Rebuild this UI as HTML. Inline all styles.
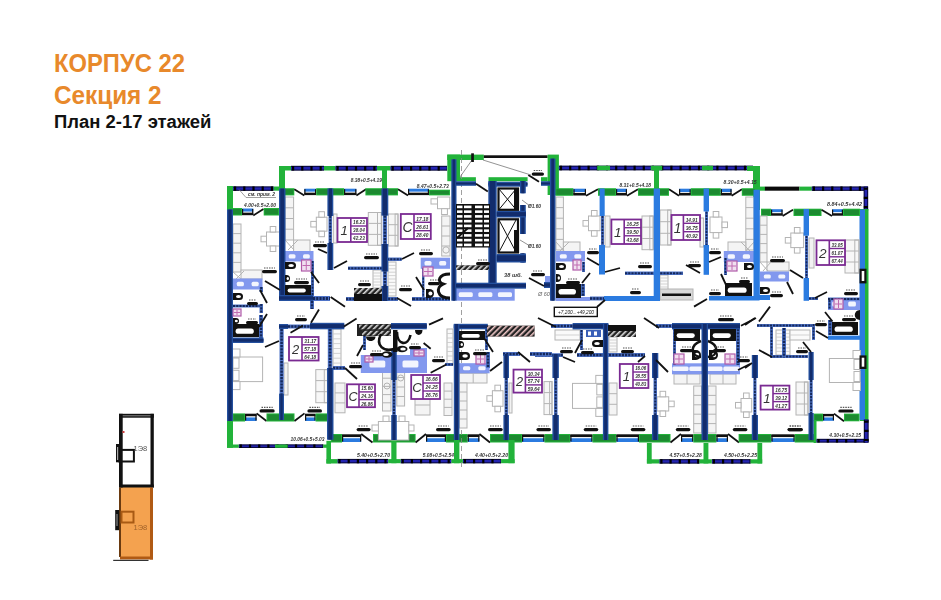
<!DOCTYPE html>
<html><head><meta charset="utf-8"><style>
html,body{margin:0;padding:0;background:#fff;width:941px;height:600px;overflow:hidden}
.t{position:absolute;font-family:"Liberation Sans",sans-serif;font-weight:bold;white-space:nowrap;line-height:1}
svg{position:absolute;left:0;top:0;will-change:transform}
</style></head><body>
<div class="t" style="left:54.2px;top:51.2px;font-size:25px;color:#e8892b;transform:scaleX(0.951);transform-origin:0 0">КОРПУС 22</div>
<div class="t" style="left:54.2px;top:82.6px;font-size:25px;color:#e8892b;transform:scaleX(0.972);transform-origin:0 0">Секция 2</div>
<div class="t" style="left:54.2px;top:114.2px;font-size:17.5px;color:#111;transform:scaleX(1.055);transform-origin:0 0">План 2-17 этажей</div>
<svg width="941" height="600" viewBox="0 0 941 600" shape-rendering="geometricPrecision">
<defs><pattern id="hg" width="4" height="4" patternUnits="userSpaceOnUse" patternTransform="rotate(45)"><rect width="1.6" height="4" fill="#ddd"/></pattern><pattern id="hr" width="4" height="4" patternUnits="userSpaceOnUse" patternTransform="rotate(45)"><rect width="1.6" height="4" fill="#f0c8c8"/></pattern></defs>
<rect x="120" y="487" width="31.5" height="71" fill="#f4a24f" />
<rect x="119" y="413.8" width="3.7" height="73.7" fill="#111" />
<rect x="150.5" y="413.8" width="3.3" height="73.7" fill="#111" />
<rect x="119" y="413.8" width="34.8" height="3.9" fill="#111" />
<rect x="122.7" y="415.3" width="27.8" height="1.0" fill="#888" />
<rect x="119" y="484.5" width="34.8" height="3.0" fill="#111" />
<rect x="119.4" y="449.9" width="14.5" height="11.6" fill="none" stroke="#111" stroke-width="2"/>
<rect x="116" y="444" width="3.2" height="18.3" fill="#111" />
<rect x="117" y="447" width="1.2" height="13" fill="#aaa" />
<rect x="122.5" y="431" width="2.0" height="2" fill="#d04040" />
<rect x="119" y="487.5" width="2" height="69.5" fill="#6a3a10" />
<rect x="150" y="487.5" width="3" height="72.0" fill="#b05a14" />
<rect x="120" y="556.5" width="33" height="3.0" fill="#b05a14" />
<rect x="113.2" y="559.8" width="35.3" height="1.2" fill="#333" />
<rect x="121.5" y="511.7" width="12" height="10.8" fill="none" stroke="#a85a14" stroke-width="2"/>
<rect x="115.2" y="510" width="4.0" height="20.2" fill="#111" />
<rect x="116.4" y="514" width="1.2" height="12" fill="#888" />
<rect x="227" y="186" width="6" height="30" fill="#22b33a" />
<rect x="233" y="186.3" width="40.7" height="4.6" fill="#0a0a40" />
<rect x="233" y="187.4" width="40.7" height="2.4" fill="#2424b0" />
<line x1="234" y1="188.6" x2="273.7" y2="188.6" stroke="#000" stroke-width="4.2" stroke-dasharray="2.2 7"/>
<rect x="273.7" y="186.5" width="11.3" height="4.2" fill="#22b33a" />
<rect x="279" y="166" width="6" height="26" fill="#22b33a" />
<rect x="279" y="166" width="12" height="4.5" fill="#22b33a" />
<rect x="291" y="165.8" width="33" height="4.9" fill="#0a0a40" />
<rect x="291" y="166.9" width="33" height="2.7" fill="#2424b0" />
<line x1="292" y1="168.25" x2="324" y2="168.25" stroke="#000" stroke-width="4.5" stroke-dasharray="2.2 7"/>
<rect x="324" y="166" width="11.5" height="4.5" fill="#22b33a" />
<rect x="335.5" y="165.8" width="41.5" height="4.9" fill="#0a0a40" />
<rect x="335.5" y="166.9" width="41.5" height="2.7" fill="#2424b0" />
<line x1="336.5" y1="168.25" x2="377" y2="168.25" stroke="#000" stroke-width="4.5" stroke-dasharray="2.2 7"/>
<rect x="377" y="166" width="13.6" height="4.5" fill="#22b33a" />
<rect x="382" y="170" width="5" height="22" fill="#22b33a" />
<rect x="390.6" y="165.8" width="56.4" height="4.9" fill="#0a0a40" />
<rect x="390.6" y="166.9" width="56.4" height="2.7" fill="#2424b0" />
<line x1="391.6" y1="168.25" x2="447" y2="168.25" stroke="#000" stroke-width="4.5" stroke-dasharray="2.2 7"/>
<rect x="447.3" y="154.6" width="36.5" height="5.4" fill="#22b33a" />
<rect x="447.3" y="154.6" width="12.7" height="26.6" fill="#22b33a" />
<rect x="460" y="177.2" width="15.9" height="4.0" fill="#22b33a" />
<rect x="483.8" y="155.3" width="63.8" height="2.7" fill="#111" />
<rect x="547.6" y="154.6" width="11.3" height="40.4" fill="#22b33a" />
<rect x="541" y="177.2" width="6.6" height="4.0" fill="#22b33a" />
<rect x="488.5" y="177.2" width="39.1" height="4.0" fill="#22b33a" />
<rect x="558.9" y="165.60000000000002" width="194.1" height="4.8" fill="#0a0a40" />
<rect x="558.9" y="166.70000000000002" width="194.1" height="2.6" fill="#2424b0" />
<line x1="559.9" y1="168.0" x2="753" y2="168.0" stroke="#000" stroke-width="4.4" stroke-dasharray="2.2 7"/>
<rect x="597.2" y="165.8" width="12.8" height="4.4" fill="#22b33a" />
<rect x="650.8" y="165.8" width="11.4" height="4.4" fill="#22b33a" />
<rect x="702" y="165.8" width="11" height="4.4" fill="#22b33a" />
<rect x="654" y="170" width="5" height="20" fill="#22b33a" />
<rect x="747" y="166" width="13" height="5" fill="#22b33a" />
<rect x="753" y="166" width="7" height="44" fill="#22b33a" />
<rect x="753" y="186.6" width="12" height="4.1" fill="#22b33a" />
<rect x="764.9" y="186.6" width="34.5" height="4.1" fill="#0a0a0a" />
<rect x="799.4" y="186.6" width="12.4" height="4.1" fill="#22b33a" />
<rect x="811.8" y="186.4" width="56.2" height="4.5" fill="#0a0a40" />
<rect x="811.8" y="187.5" width="56.2" height="2.3" fill="#2424b0" />
<line x1="812.8" y1="188.65" x2="868" y2="188.65" stroke="#000" stroke-width="4.1" stroke-dasharray="2.2 7"/>
<rect x="863.5999999999999" y="186.6" width="4.6" height="23.9" fill="#0a0a40" />
<rect x="864.6999999999999" y="186.6" width="2.4" height="23.9" fill="#2424b0" />
<line x1="865.9" y1="187.6" x2="865.9" y2="210.5" stroke="#000" stroke-width="4.2" stroke-dasharray="2.2 7"/>
<rect x="860" y="209" width="8.5" height="212" fill="#22b33a" />
<rect x="859.5" y="209.5" width="5.5" height="210.5" fill="#2b7be0" />
<rect x="231.9" y="208" width="10.1" height="7.5" fill="#22b33a" />
<rect x="232.9" y="209" width="8.1" height="5.5" fill="#1c8a30" />
<rect x="242" y="208.5" width="11.3" height="3.25" fill="#2b7be0" />
<rect x="242" y="211.75" width="11.3" height="0.9" fill="#ffffff" />
<rect x="242" y="212.65" width="11.3" height="2.55" fill="#111" />
<rect x="242" y="209" width="1.2" height="5.5" fill="#111" />
<rect x="252.10000000000002" y="209" width="1.2" height="5.5" fill="#111" />
<line x1="253.3" y1="215.5" x2="263.5" y2="209" stroke="#111" stroke-width="1.8"/>
<rect x="263.7" y="208" width="15.3" height="7.5" fill="#22b33a" />
<rect x="264.7" y="209" width="13.3" height="5.5" fill="#1c8a30" />
<rect x="283.7" y="188.2" width="10.6" height="7.2" fill="#22b33a" />
<rect x="284.7" y="189.2" width="8.6" height="5.2" fill="#1c8a30" />
<line x1="294.3" y1="189.2" x2="304.3" y2="195.4" stroke="#111" stroke-width="1.8"/>
<rect x="304.3" y="188.7" width="11.9" height="3.1" fill="#2b7be0" />
<rect x="304.3" y="191.8" width="11.9" height="0.86" fill="#ffffff" />
<rect x="304.3" y="192.664" width="11.9" height="2.44" fill="#111" />
<rect x="304.3" y="189.2" width="1.2" height="5.2" fill="#111" />
<rect x="315.0" y="189.2" width="1.2" height="5.2" fill="#111" />
<rect x="316.2" y="188.2" width="27.8" height="7.2" fill="#22b33a" />
<rect x="317.2" y="189.2" width="25.8" height="5.2" fill="#1c8a30" />
<rect x="344" y="188.7" width="12.4" height="3.1" fill="#2b7be0" />
<rect x="344" y="191.8" width="12.4" height="0.86" fill="#ffffff" />
<rect x="344" y="192.664" width="12.4" height="2.44" fill="#111" />
<rect x="344" y="189.2" width="1.2" height="5.2" fill="#111" />
<rect x="355.2" y="189.2" width="1.2" height="5.2" fill="#111" />
<line x1="356.4" y1="195.4" x2="366" y2="189.2" stroke="#111" stroke-width="1.8"/>
<rect x="365.4" y="188.2" width="32.6" height="7.2" fill="#22b33a" />
<rect x="366.4" y="189.2" width="30.6" height="5.2" fill="#1c8a30" />
<line x1="398" y1="189.2" x2="408" y2="195.4" stroke="#111" stroke-width="1.8"/>
<rect x="408" y="188.7" width="21" height="3.1" fill="#2b7be0" />
<rect x="408" y="191.8" width="21" height="0.86" fill="#ffffff" />
<rect x="408" y="192.664" width="21" height="2.44" fill="#111" />
<rect x="408" y="189.2" width="1.2" height="5.2" fill="#111" />
<rect x="427.8" y="189.2" width="1.2" height="5.2" fill="#111" />
<rect x="429" y="189.7" width="21" height="5.7" fill="#22b33a" />
<rect x="430" y="190.7" width="19" height="3.7" fill="#1c8a30" />
<rect x="555.3" y="188.2" width="18.1" height="7.6" fill="#22b33a" />
<rect x="556.3" y="189.2" width="16.1" height="5.6" fill="#1c8a30" />
<rect x="573.4" y="188.7" width="12.6" height="3.3" fill="#2b7be0" />
<rect x="573.4" y="192.0" width="12.6" height="0.91" fill="#ffffff" />
<rect x="573.4" y="192.912" width="12.6" height="2.59" fill="#111" />
<rect x="573.4" y="189.2" width="1.2" height="5.6" fill="#111" />
<rect x="584.8" y="189.2" width="1.2" height="5.6" fill="#111" />
<line x1="586" y1="195.8" x2="598" y2="189.2" stroke="#111" stroke-width="1.8"/>
<rect x="598" y="188.2" width="18" height="7.6" fill="#22b33a" />
<rect x="599" y="189.2" width="16" height="5.6" fill="#1c8a30" />
<rect x="616" y="188.7" width="11" height="3.3" fill="#2b7be0" />
<rect x="616" y="192.0" width="11" height="0.91" fill="#ffffff" />
<rect x="616" y="192.912" width="11" height="2.59" fill="#111" />
<rect x="616" y="189.2" width="1.2" height="5.6" fill="#111" />
<rect x="625.8" y="189.2" width="1.2" height="5.6" fill="#111" />
<line x1="627" y1="195.8" x2="638" y2="189.2" stroke="#111" stroke-width="1.8"/>
<rect x="638" y="188.2" width="31" height="7.6" fill="#22b33a" />
<rect x="639" y="189.2" width="29" height="5.6" fill="#1c8a30" />
<line x1="669" y1="189.2" x2="679" y2="195.8" stroke="#111" stroke-width="1.8"/>
<rect x="679" y="188.7" width="11.8" height="3.3" fill="#2b7be0" />
<rect x="679" y="192.0" width="11.8" height="0.91" fill="#ffffff" />
<rect x="679" y="192.912" width="11.8" height="2.59" fill="#111" />
<rect x="679" y="189.2" width="1.2" height="5.6" fill="#111" />
<rect x="689.5999999999999" y="189.2" width="1.2" height="5.6" fill="#111" />
<rect x="690.8" y="188.2" width="30.0" height="7.6" fill="#22b33a" />
<rect x="691.8" y="189.2" width="28.0" height="5.6" fill="#1c8a30" />
<rect x="720.8" y="188.7" width="10.8" height="3.3" fill="#2b7be0" />
<rect x="720.8" y="192.0" width="10.8" height="0.91" fill="#ffffff" />
<rect x="720.8" y="192.912" width="10.8" height="2.59" fill="#111" />
<rect x="720.8" y="189.2" width="1.2" height="5.6" fill="#111" />
<rect x="730.4" y="189.2" width="1.2" height="5.6" fill="#111" />
<line x1="731.6" y1="195.8" x2="742" y2="189.2" stroke="#111" stroke-width="1.8"/>
<rect x="741.8" y="188.2" width="14.2" height="7.6" fill="#22b33a" />
<rect x="742.8" y="189.2" width="12.2" height="5.6" fill="#1c8a30" />
<rect x="761" y="208.7" width="10" height="7.3" fill="#22b33a" />
<rect x="762" y="209.7" width="8" height="5.3" fill="#1c8a30" />
<rect x="771" y="209.2" width="11.6" height="3.15" fill="#2b7be0" />
<rect x="771" y="212.35" width="11.6" height="0.88" fill="#ffffff" />
<rect x="771" y="213.226" width="11.6" height="2.47" fill="#111" />
<rect x="771" y="209.7" width="1.2" height="5.3" fill="#111" />
<rect x="781.4" y="209.7" width="1.2" height="5.3" fill="#111" />
<line x1="782.6" y1="216" x2="793" y2="209.7" stroke="#111" stroke-width="1.8"/>
<rect x="793.5" y="208.7" width="28.0" height="7.3" fill="#22b33a" />
<rect x="794.5" y="209.7" width="26.0" height="5.3" fill="#1c8a30" />
<line x1="821.5" y1="209.7" x2="832" y2="216" stroke="#111" stroke-width="1.8"/>
<rect x="832" y="209.2" width="11" height="3.15" fill="#2b7be0" />
<rect x="832" y="212.35" width="11" height="0.88" fill="#ffffff" />
<rect x="832" y="213.226" width="11" height="2.47" fill="#111" />
<rect x="832" y="209.7" width="1.2" height="5.3" fill="#111" />
<rect x="841.8" y="209.7" width="1.2" height="5.3" fill="#111" />
<rect x="843" y="208.7" width="17" height="7.3" fill="#22b33a" />
<rect x="844" y="209.7" width="15" height="5.3" fill="#1c8a30" />
<rect x="232.6" y="413.4" width="12.4" height="8.1" fill="#22b33a" />
<rect x="233.6" y="414.4" width="10.4" height="6.1" fill="#1c8a30" />
<rect x="245" y="413.7" width="11.6" height="2.78" fill="#111" />
<rect x="245" y="416.478" width="11.6" height="0.97" fill="#ffffff" />
<rect x="245" y="417.45" width="11.6" height="3.55" fill="#2b7be0" />
<rect x="245" y="414.4" width="1.2" height="6.1" fill="#111" />
<rect x="255.40000000000003" y="414.4" width="1.2" height="6.1" fill="#111" />
<line x1="256.6" y1="413.4" x2="266.5" y2="421.0" stroke="#111" stroke-width="1.8"/>
<rect x="266.5" y="413.4" width="28.0" height="8.1" fill="#22b33a" />
<rect x="267.5" y="414.4" width="26.0" height="6.1" fill="#1c8a30" />
<line x1="294.5" y1="421.0" x2="304.5" y2="413.4" stroke="#111" stroke-width="1.8"/>
<rect x="305" y="413.7" width="10.6" height="2.78" fill="#111" />
<rect x="305" y="416.478" width="10.6" height="0.97" fill="#ffffff" />
<rect x="305" y="417.45" width="10.6" height="3.55" fill="#2b7be0" />
<rect x="305" y="414.4" width="1.2" height="6.1" fill="#111" />
<rect x="314.40000000000003" y="414.4" width="1.2" height="6.1" fill="#111" />
<rect x="315.6" y="413.4" width="13.4" height="8.1" fill="#22b33a" />
<rect x="316.6" y="414.4" width="11.4" height="6.1" fill="#1c8a30" />
<rect x="330.8" y="434" width="11.2" height="8.5" fill="#22b33a" />
<rect x="331.8" y="435" width="9.2" height="6.5" fill="#1c8a30" />
<rect x="342" y="434.3" width="19.2" height="2.93" fill="#111" />
<rect x="342" y="437.23" width="19.2" height="1.02" fill="#ffffff" />
<rect x="342" y="438.25" width="19.2" height="3.75" fill="#2b7be0" />
<rect x="342" y="435" width="1.2" height="6.5" fill="#111" />
<rect x="360.0" y="435" width="1.2" height="6.5" fill="#111" />
<line x1="361.2" y1="434" x2="372.5" y2="442.5" stroke="#111" stroke-width="1.8"/>
<rect x="373" y="434" width="42.6" height="8.5" fill="#22b33a" />
<rect x="374" y="435" width="40.6" height="6.5" fill="#1c8a30" />
<line x1="415.6" y1="442.5" x2="426" y2="434" stroke="#111" stroke-width="1.8"/>
<rect x="426" y="434.3" width="20" height="2.93" fill="#111" />
<rect x="426" y="437.23" width="20" height="1.02" fill="#ffffff" />
<rect x="426" y="438.25" width="20" height="3.75" fill="#2b7be0" />
<rect x="426" y="435" width="1.2" height="6.5" fill="#111" />
<rect x="444.8" y="435" width="1.2" height="6.5" fill="#111" />
<rect x="446" y="434" width="21.7" height="8.5" fill="#22b33a" />
<rect x="447" y="435" width="19.7" height="6.5" fill="#1c8a30" />
<rect x="467.7" y="434.3" width="11.7" height="2.93" fill="#111" />
<rect x="467.7" y="437.23" width="11.7" height="1.02" fill="#ffffff" />
<rect x="467.7" y="438.25" width="11.7" height="3.75" fill="#2b7be0" />
<rect x="467.7" y="435" width="1.2" height="6.5" fill="#111" />
<rect x="478.2" y="435" width="1.2" height="6.5" fill="#111" />
<line x1="479.4" y1="434" x2="490" y2="442.5" stroke="#111" stroke-width="1.8"/>
<rect x="490" y="434" width="32" height="8.5" fill="#22b33a" />
<rect x="491" y="435" width="30" height="6.5" fill="#1c8a30" />
<rect x="522" y="434.3" width="22.5" height="2.93" fill="#111" />
<rect x="522" y="437.23" width="22.5" height="1.02" fill="#ffffff" />
<rect x="522" y="438.25" width="22.5" height="3.75" fill="#2b7be0" />
<rect x="522" y="435" width="1.2" height="6.5" fill="#111" />
<rect x="543.3" y="435" width="1.2" height="6.5" fill="#111" />
<rect x="544.5" y="434" width="25.8" height="8.5" fill="#22b33a" />
<rect x="545.5" y="435" width="23.8" height="6.5" fill="#1c8a30" />
<rect x="570.3" y="434.3" width="22.2" height="2.93" fill="#111" />
<rect x="570.3" y="437.23" width="22.2" height="1.02" fill="#ffffff" />
<rect x="570.3" y="438.25" width="22.2" height="3.75" fill="#2b7be0" />
<rect x="570.3" y="435" width="1.2" height="6.5" fill="#111" />
<rect x="591.3" y="435" width="1.2" height="6.5" fill="#111" />
<rect x="592.5" y="434" width="23.9" height="8.5" fill="#22b33a" />
<rect x="593.5" y="435" width="21.9" height="6.5" fill="#1c8a30" />
<rect x="616.4" y="434.3" width="22.6" height="2.93" fill="#111" />
<rect x="616.4" y="437.23" width="22.6" height="1.02" fill="#ffffff" />
<rect x="616.4" y="438.25" width="22.6" height="3.75" fill="#2b7be0" />
<rect x="616.4" y="435" width="1.2" height="6.5" fill="#111" />
<rect x="637.8" y="435" width="1.2" height="6.5" fill="#111" />
<rect x="639" y="434" width="31.5" height="8.5" fill="#22b33a" />
<rect x="640" y="435" width="29.5" height="6.5" fill="#1c8a30" />
<line x1="670.5" y1="442.5" x2="681" y2="434" stroke="#111" stroke-width="1.8"/>
<rect x="681" y="434.3" width="12.3" height="2.93" fill="#111" />
<rect x="681" y="437.23" width="12.3" height="1.02" fill="#ffffff" />
<rect x="681" y="438.25" width="12.3" height="3.75" fill="#2b7be0" />
<rect x="681" y="435" width="1.2" height="6.5" fill="#111" />
<rect x="692.0999999999999" y="435" width="1.2" height="6.5" fill="#111" />
<rect x="693.3" y="434" width="23.1" height="8.5" fill="#22b33a" />
<rect x="694.3" y="435" width="21.1" height="6.5" fill="#1c8a30" />
<rect x="716.4" y="434.3" width="11.6" height="2.93" fill="#111" />
<rect x="716.4" y="437.23" width="11.6" height="1.02" fill="#ffffff" />
<rect x="716.4" y="438.25" width="11.6" height="3.75" fill="#2b7be0" />
<rect x="716.4" y="435" width="1.2" height="6.5" fill="#111" />
<rect x="726.8" y="435" width="1.2" height="6.5" fill="#111" />
<line x1="728" y1="434" x2="739" y2="442.5" stroke="#111" stroke-width="1.8"/>
<rect x="738.6" y="434" width="32.8" height="8.5" fill="#22b33a" />
<rect x="739.6" y="435" width="30.8" height="6.5" fill="#1c8a30" />
<rect x="771.4" y="434.3" width="23.3" height="2.93" fill="#111" />
<rect x="771.4" y="437.23" width="23.3" height="1.02" fill="#ffffff" />
<rect x="771.4" y="438.25" width="23.3" height="3.75" fill="#2b7be0" />
<rect x="771.4" y="435" width="1.2" height="6.5" fill="#111" />
<rect x="793.5" y="435" width="1.2" height="6.5" fill="#111" />
<rect x="794.7" y="434" width="20.5" height="8.5" fill="#22b33a" />
<rect x="795.7" y="435" width="18.5" height="6.5" fill="#1c8a30" />
<rect x="813.6" y="413.6" width="9.4" height="7.7" fill="#22b33a" />
<rect x="814.6" y="414.6" width="7.4" height="5.7" fill="#1c8a30" />
<rect x="823" y="413.90000000000003" width="11" height="2.63" fill="#111" />
<rect x="823" y="416.526" width="11" height="0.92" fill="#ffffff" />
<rect x="823" y="417.45000000000005" width="11" height="3.35" fill="#2b7be0" />
<rect x="823" y="414.6" width="1.2" height="5.7" fill="#111" />
<rect x="832.8" y="414.6" width="1.2" height="5.7" fill="#111" />
<line x1="834" y1="413.6" x2="844" y2="421.3" stroke="#111" stroke-width="1.8"/>
<rect x="844" y="413.6" width="15.5" height="7.7" fill="#22b33a" />
<rect x="845" y="414.6" width="13.5" height="5.7" fill="#1c8a30" />
<rect x="813.6" y="420" width="2.9" height="23" fill="#22b33a" />
<rect x="816.5" y="438.8" width="52.0" height="3.9" fill="#0a0a40" />
<rect x="816.5" y="439.9" width="52.0" height="1.7" fill="#2424b0" />
<line x1="817.5" y1="440.75" x2="868.5" y2="440.75" stroke="#000" stroke-width="3.5" stroke-dasharray="2.2 7"/>
<rect x="863.8" y="419.5" width="4.9" height="23.0" fill="#0a0a40" />
<rect x="864.9" y="419.5" width="2.7" height="23.0" fill="#2424b0" />
<line x1="866.25" y1="420.5" x2="866.25" y2="442.5" stroke="#000" stroke-width="4.5" stroke-dasharray="2.2 7"/>
<rect x="646.9" y="443" width="4.8" height="20.5" fill="#22b33a" />
<rect x="703.5" y="443" width="4.9" height="20.5" fill="#22b33a" />
<rect x="757.4" y="443" width="4.8" height="20.5" fill="#22b33a" />
<rect x="659.3" y="459.1" width="40.1" height="4.6" fill="#0a0a40" />
<rect x="659.3" y="460.2" width="40.1" height="2.4" fill="#2424b0" />
<line x1="660.3" y1="461.40000000000003" x2="699.4" y2="461.40000000000003" stroke="#000" stroke-width="4.2" stroke-dasharray="2.2 7"/>
<rect x="711.8" y="459.1" width="38.7" height="4.6" fill="#0a0a40" />
<rect x="711.8" y="460.2" width="38.7" height="2.4" fill="#2424b0" />
<line x1="712.8" y1="461.40000000000003" x2="750.5" y2="461.40000000000003" stroke="#000" stroke-width="4.2" stroke-dasharray="2.2 7"/>
<rect x="646.9" y="459.3" width="12.4" height="4.2" fill="#22b33a" />
<rect x="699.4" y="459.3" width="12.4" height="4.2" fill="#22b33a" />
<rect x="750.5" y="459.3" width="11.7" height="4.2" fill="#22b33a" />
<rect x="326.4" y="440.8" width="4.6" height="22.7" fill="#22b33a" />
<rect x="391.3" y="440" width="5.2" height="23.2" fill="#22b33a" />
<rect x="454" y="440" width="5.4" height="23.2" fill="#22b33a" />
<rect x="508.4" y="440" width="6.2" height="23.2" fill="#22b33a" />
<rect x="337.4" y="458.90000000000003" width="50.8" height="4.5" fill="#0a0a40" />
<rect x="337.4" y="460.0" width="50.8" height="2.3" fill="#2424b0" />
<line x1="338.4" y1="461.15000000000003" x2="388.2" y2="461.15000000000003" stroke="#000" stroke-width="4.1" stroke-dasharray="2.2 7"/>
<rect x="400.6" y="458.90000000000003" width="50.8" height="4.5" fill="#0a0a40" />
<rect x="400.6" y="460.0" width="50.8" height="2.3" fill="#2424b0" />
<line x1="401.6" y1="461.15000000000003" x2="451.4" y2="461.15000000000003" stroke="#000" stroke-width="4.1" stroke-dasharray="2.2 7"/>
<rect x="462.8" y="458.90000000000003" width="38.3" height="4.5" fill="#0a0a40" />
<rect x="462.8" y="460.0" width="38.3" height="2.3" fill="#2424b0" />
<line x1="463.8" y1="461.15000000000003" x2="501.1" y2="461.15000000000003" stroke="#000" stroke-width="4.1" stroke-dasharray="2.2 7"/>
<rect x="326.4" y="459.1" width="11.0" height="4.4" fill="#22b33a" />
<rect x="388.2" y="459.1" width="12.4" height="4.1" fill="#22b33a" />
<rect x="451.4" y="459.1" width="11.4" height="4.1" fill="#22b33a" />
<rect x="501.1" y="459.1" width="13.5" height="4.1" fill="#22b33a" />
<rect x="227" y="420" width="6" height="27.8" fill="#22b33a" />
<rect x="238.7" y="444.3" width="84.5" height="3.7" fill="#0a0a40" />
<rect x="238.7" y="445.4" width="84.5" height="1.5" fill="#2424b0" />
<line x1="239.7" y1="446.15" x2="323.2" y2="446.15" stroke="#000" stroke-width="3.3" stroke-dasharray="2.2 7"/>
<rect x="227" y="444.5" width="11.7" height="3.3" fill="#22b33a" />
<rect x="275" y="444.5" width="12.7" height="3.3" fill="#22b33a" />
<rect x="323.2" y="444.5" width="4.3" height="3.3" fill="#22b33a" />
<line x1="461.5" y1="150" x2="461.5" y2="470" stroke="#888" stroke-width="0.8" stroke-dasharray="5 3"/>
<rect x="233" y="224" width="8" height="48" fill="#f4f4f4" stroke="#b4b4b4" stroke-width="1"/>
<line x1="233" y1="233.6" x2="241" y2="233.6" stroke="#b4b4b4" stroke-width="1"/>
<line x1="233" y1="243.2" x2="241" y2="243.2" stroke="#b4b4b4" stroke-width="1"/>
<line x1="233" y1="252.8" x2="241" y2="252.8" stroke="#b4b4b4" stroke-width="1"/>
<line x1="233" y1="262.4" x2="241" y2="262.4" stroke="#b4b4b4" stroke-width="1"/>
<rect x="241" y="270" width="21" height="9" fill="#f4f4f4" stroke="#b4b4b4" stroke-width="1"/>
<path d="M233 272 L241 279 M236 279 L244 271" stroke="#b4b4b4" stroke-width="1"/>
<rect x="266.5" y="232" width="13.0" height="14" fill="#fff" stroke="#b4b4b4" stroke-width="1"/>
<rect x="270.2" y="226.5" width="5.6" height="5.5" fill="#fff" stroke="#b4b4b4" stroke-width="1"/>
<rect x="270.2" y="246" width="5.6" height="5.5" fill="#fff" stroke="#b4b4b4" stroke-width="1"/>
<rect x="261.0" y="236.2" width="5.5" height="5.6" fill="#fff" stroke="#b4b4b4" stroke-width="1"/>
<rect x="233" y="357" width="29.6" height="24.6" fill="#fff" stroke="#b4b4b4" stroke-width="1"/>
<rect x="233" y="358" width="6" height="10.3" fill="#fff" stroke="#b4b4b4" stroke-width="1"/>
<rect x="233" y="370.3" width="6" height="10.3" fill="#fff" stroke="#b4b4b4" stroke-width="1"/>
<rect x="232.5" y="349" width="7.5" height="8" fill="#fff" stroke="#b4b4b4" stroke-width="1"/>
<rect x="232.5" y="381.6" width="7.5" height="8.0" fill="#fff" stroke="#b4b4b4" stroke-width="1"/>
<rect x="284" y="363" width="4" height="32" fill="#f2f2f2" stroke="#b4b4b4" stroke-width="1"/>
<rect x="315.8" y="369.6" width="12.2" height="33.1" fill="#f7f7f7" stroke="#b4b4b4" stroke-width="1"/>
<line x1="315.8" y1="380.6" x2="328" y2="380.6" stroke="#b4b4b4" stroke-width="1"/>
<line x1="315.8" y1="391.7" x2="328" y2="391.7" stroke="#b4b4b4" stroke-width="1"/>
<rect x="324.3" y="369.6" width="3.7" height="33.099999999999966" fill="none" stroke="#b4b4b4" stroke-width="1"/>
<rect x="333" y="329" width="8" height="39" fill="#fafafa" stroke="#b4b4b4" stroke-width="1"/>
<line x1="333" y1="333.9" x2="341" y2="333.9" stroke="#c8c8c8" stroke-width="0.8"/>
<line x1="333" y1="338.8" x2="341" y2="338.8" stroke="#c8c8c8" stroke-width="0.8"/>
<line x1="333" y1="343.6" x2="341" y2="343.6" stroke="#c8c8c8" stroke-width="0.8"/>
<line x1="333" y1="348.5" x2="341" y2="348.5" stroke="#c8c8c8" stroke-width="0.8"/>
<line x1="333" y1="353.4" x2="341" y2="353.4" stroke="#c8c8c8" stroke-width="0.8"/>
<line x1="333" y1="358.2" x2="341" y2="358.2" stroke="#c8c8c8" stroke-width="0.8"/>
<line x1="333" y1="363.1" x2="341" y2="363.1" stroke="#c8c8c8" stroke-width="0.8"/>
<rect x="285" y="197" width="8.6" height="43" fill="#f4f4f4" stroke="#b4b4b4" stroke-width="1"/>
<line x1="285" y1="207.8" x2="293.6" y2="207.8" stroke="#b4b4b4" stroke-width="1"/>
<line x1="285" y1="218.5" x2="293.6" y2="218.5" stroke="#b4b4b4" stroke-width="1"/>
<line x1="285" y1="229.2" x2="293.6" y2="229.2" stroke="#b4b4b4" stroke-width="1"/>
<rect x="293.6" y="240" width="16.4" height="12" fill="#f4f4f4" stroke="#b4b4b4" stroke-width="1"/>
<path d="M285 240 L294 250 M288 250 L298 240" stroke="#b4b4b4" stroke-width="1"/>
<rect x="316.3" y="217.2" width="10.7" height="14.0" fill="#fff" stroke="#b4b4b4" stroke-width="1"/>
<rect x="318.84999999999997" y="211.7" width="5.6" height="5.5" fill="#fff" stroke="#b4b4b4" stroke-width="1"/>
<rect x="318.84999999999997" y="231.2" width="5.6" height="5.5" fill="#fff" stroke="#b4b4b4" stroke-width="1"/>
<rect x="310.8" y="221.39999999999998" width="5.5" height="5.6" fill="#fff" stroke="#b4b4b4" stroke-width="1"/>
<rect x="333.3" y="214" width="3.7" height="29" fill="#f2f2f2" stroke="#b4b4b4" stroke-width="1"/>
<rect x="368.3" y="212.5" width="13.1" height="32.8" fill="#f7f7f7" stroke="#b4b4b4" stroke-width="1"/>
<line x1="368.3" y1="223.4" x2="381.4" y2="223.4" stroke="#b4b4b4" stroke-width="1"/>
<line x1="368.3" y1="234.4" x2="381.4" y2="234.4" stroke="#b4b4b4" stroke-width="1"/>
<rect x="377.5" y="212.5" width="3.9" height="32.80000000000001" fill="none" stroke="#b4b4b4" stroke-width="1"/>
<rect x="373" y="270" width="8" height="18" fill="#fafafa" stroke="#b4b4b4" stroke-width="1"/>
<line x1="373" y1="273.0" x2="381" y2="273.0" stroke="#c8c8c8" stroke-width="0.8"/>
<line x1="373" y1="276.0" x2="381" y2="276.0" stroke="#c8c8c8" stroke-width="0.8"/>
<line x1="373" y1="279.0" x2="381" y2="279.0" stroke="#c8c8c8" stroke-width="0.8"/>
<line x1="373" y1="282.0" x2="381" y2="282.0" stroke="#c8c8c8" stroke-width="0.8"/>
<line x1="373" y1="285.0" x2="381" y2="285.0" stroke="#c8c8c8" stroke-width="0.8"/>
<rect x="388" y="262" width="8" height="34" fill="#fafafa" stroke="#b4b4b4" stroke-width="1"/>
<line x1="388" y1="265.4" x2="396" y2="265.4" stroke="#c8c8c8" stroke-width="0.8"/>
<line x1="388" y1="268.8" x2="396" y2="268.8" stroke="#c8c8c8" stroke-width="0.8"/>
<line x1="388" y1="272.2" x2="396" y2="272.2" stroke="#c8c8c8" stroke-width="0.8"/>
<line x1="388" y1="275.6" x2="396" y2="275.6" stroke="#c8c8c8" stroke-width="0.8"/>
<line x1="388" y1="279.0" x2="396" y2="279.0" stroke="#c8c8c8" stroke-width="0.8"/>
<line x1="388" y1="282.4" x2="396" y2="282.4" stroke="#c8c8c8" stroke-width="0.8"/>
<line x1="388" y1="285.8" x2="396" y2="285.8" stroke="#c8c8c8" stroke-width="0.8"/>
<line x1="388" y1="289.2" x2="396" y2="289.2" stroke="#c8c8c8" stroke-width="0.8"/>
<line x1="388" y1="292.6" x2="396" y2="292.6" stroke="#c8c8c8" stroke-width="0.8"/>
<rect x="388.3" y="214" width="9.7" height="32" fill="#f7f7f7" stroke="#b4b4b4" stroke-width="1"/>
<line x1="388.3" y1="224.7" x2="398" y2="224.7" stroke="#b4b4b4" stroke-width="1"/>
<line x1="388.3" y1="235.3" x2="398" y2="235.3" stroke="#b4b4b4" stroke-width="1"/>
<rect x="395.1" y="214" width="2.9" height="32" fill="none" stroke="#b4b4b4" stroke-width="1"/>
<rect x="441.7" y="216" width="8.3" height="40" fill="#f4f4f4" stroke="#b4b4b4" stroke-width="1"/>
<line x1="441.7" y1="226.0" x2="450" y2="226.0" stroke="#b4b4b4" stroke-width="1"/>
<line x1="441.7" y1="236.0" x2="450" y2="236.0" stroke="#b4b4b4" stroke-width="1"/>
<line x1="441.7" y1="246.0" x2="450" y2="246.0" stroke="#b4b4b4" stroke-width="1"/>
<circle cx="446" cy="250" r="3.2" fill="none" stroke="#b4b4b4" stroke-width="1"/>
<rect x="437.5" y="197" width="12.3" height="11.7" fill="#fff" stroke="#b4b4b4" stroke-width="1"/>
<rect x="431" y="198.8" width="6.5" height="5.2" fill="#fff" stroke="#b4b4b4" stroke-width="1"/>
<rect x="441.6" y="208.7" width="5.8" height="5.8" fill="#fff" stroke="#b4b4b4" stroke-width="1"/>
<rect x="556" y="197" width="7.4" height="53" fill="#f4f4f4" stroke="#b4b4b4" stroke-width="1"/>
<line x1="556" y1="207.6" x2="563.4" y2="207.6" stroke="#b4b4b4" stroke-width="1"/>
<line x1="556" y1="218.2" x2="563.4" y2="218.2" stroke="#b4b4b4" stroke-width="1"/>
<line x1="556" y1="228.8" x2="563.4" y2="228.8" stroke="#b4b4b4" stroke-width="1"/>
<line x1="556" y1="239.4" x2="563.4" y2="239.4" stroke="#b4b4b4" stroke-width="1"/>
<rect x="563.4" y="242" width="16.6" height="10" fill="#f4f4f4" stroke="#b4b4b4" stroke-width="1"/>
<path d="M556 242 L565 252 M559 252 L569 242" stroke="#b4b4b4" stroke-width="1"/>
<rect x="588.5" y="216" width="11.5" height="14.7" fill="#fff" stroke="#b4b4b4" stroke-width="1"/>
<rect x="591.45" y="210.5" width="5.6" height="5.5" fill="#fff" stroke="#b4b4b4" stroke-width="1"/>
<rect x="591.45" y="230.7" width="5.6" height="5.5" fill="#fff" stroke="#b4b4b4" stroke-width="1"/>
<rect x="583.0" y="220.54999999999998" width="5.5" height="5.6" fill="#fff" stroke="#b4b4b4" stroke-width="1"/>
<rect x="605" y="216" width="5" height="31" fill="#f2f2f2" stroke="#b4b4b4" stroke-width="1"/>
<rect x="642" y="216" width="11.2" height="33.7" fill="#f7f7f7" stroke="#b4b4b4" stroke-width="1"/>
<line x1="642" y1="227.2" x2="653.2" y2="227.2" stroke="#b4b4b4" stroke-width="1"/>
<line x1="642" y1="238.5" x2="653.2" y2="238.5" stroke="#b4b4b4" stroke-width="1"/>
<rect x="649.8" y="216" width="3.4" height="33.69999999999999" fill="none" stroke="#b4b4b4" stroke-width="1"/>
<rect x="660" y="210" width="11" height="35" fill="#f7f7f7" stroke="#b4b4b4" stroke-width="1"/>
<line x1="660" y1="221.7" x2="671" y2="221.7" stroke="#b4b4b4" stroke-width="1"/>
<line x1="660" y1="233.3" x2="671" y2="233.3" stroke="#b4b4b4" stroke-width="1"/>
<rect x="667.7" y="210" width="3.3" height="35" fill="none" stroke="#b4b4b4" stroke-width="1"/>
<rect x="700" y="218" width="3.6" height="29" fill="#f2f2f2" stroke="#b4b4b4" stroke-width="1"/>
<rect x="710" y="217" width="12" height="15.6" fill="#fff" stroke="#b4b4b4" stroke-width="1"/>
<rect x="713.2" y="211.5" width="5.6" height="5.5" fill="#fff" stroke="#b4b4b4" stroke-width="1"/>
<rect x="713.2" y="232.6" width="5.6" height="5.5" fill="#fff" stroke="#b4b4b4" stroke-width="1"/>
<rect x="722" y="222.0" width="5.5" height="5.6" fill="#fff" stroke="#b4b4b4" stroke-width="1"/>
<rect x="745.8" y="197" width="8.2" height="53" fill="#f4f4f4" stroke="#b4b4b4" stroke-width="1"/>
<line x1="745.8" y1="207.6" x2="754" y2="207.6" stroke="#b4b4b4" stroke-width="1"/>
<line x1="745.8" y1="218.2" x2="754" y2="218.2" stroke="#b4b4b4" stroke-width="1"/>
<line x1="745.8" y1="228.8" x2="754" y2="228.8" stroke="#b4b4b4" stroke-width="1"/>
<line x1="745.8" y1="239.4" x2="754" y2="239.4" stroke="#b4b4b4" stroke-width="1"/>
<rect x="728" y="242" width="17.8" height="10" fill="#f4f4f4" stroke="#b4b4b4" stroke-width="1"/>
<path d="M754 242 L745 252 M751 252 L741 242" stroke="#b4b4b4" stroke-width="1"/>
<rect x="660" y="275" width="8" height="15" fill="#fafafa" stroke="#b4b4b4" stroke-width="1"/>
<line x1="660" y1="278.0" x2="668" y2="278.0" stroke="#c8c8c8" stroke-width="0.8"/>
<line x1="660" y1="281.0" x2="668" y2="281.0" stroke="#c8c8c8" stroke-width="0.8"/>
<line x1="660" y1="284.0" x2="668" y2="284.0" stroke="#c8c8c8" stroke-width="0.8"/>
<line x1="660" y1="287.0" x2="668" y2="287.0" stroke="#c8c8c8" stroke-width="0.8"/>
<rect x="660" y="289" width="33" height="11" fill="#d8d8d8" stroke="#b4b4b4" stroke-width="1"/>
<rect x="760" y="216" width="7" height="46" fill="#f4f4f4" stroke="#b4b4b4" stroke-width="1"/>
<line x1="760" y1="225.2" x2="767" y2="225.2" stroke="#b4b4b4" stroke-width="1"/>
<line x1="760" y1="234.4" x2="767" y2="234.4" stroke="#b4b4b4" stroke-width="1"/>
<line x1="760" y1="243.6" x2="767" y2="243.6" stroke="#b4b4b4" stroke-width="1"/>
<line x1="760" y1="252.8" x2="767" y2="252.8" stroke="#b4b4b4" stroke-width="1"/>
<rect x="767" y="262" width="22" height="9" fill="#f4f4f4" stroke="#b4b4b4" stroke-width="1"/>
<path d="M760 262 L768 271 M763 271 L771 262" stroke="#b4b4b4" stroke-width="1"/>
<rect x="790.8" y="233" width="12.8" height="14.6" fill="#fff" stroke="#b4b4b4" stroke-width="1"/>
<rect x="794.4000000000001" y="227.5" width="5.6" height="5.5" fill="#fff" stroke="#b4b4b4" stroke-width="1"/>
<rect x="794.4000000000001" y="247.6" width="5.6" height="5.5" fill="#fff" stroke="#b4b4b4" stroke-width="1"/>
<rect x="785.3" y="237.5" width="5.5" height="5.6" fill="#fff" stroke="#b4b4b4" stroke-width="1"/>
<rect x="809" y="238" width="5" height="30" fill="#f2f2f2" stroke="#b4b4b4" stroke-width="1"/>
<rect x="845" y="240" width="14" height="33" fill="#f7f7f7" stroke="#b4b4b4" stroke-width="1"/>
<line x1="845" y1="251.0" x2="859" y2="251.0" stroke="#b4b4b4" stroke-width="1"/>
<line x1="845" y1="262.0" x2="859" y2="262.0" stroke="#b4b4b4" stroke-width="1"/>
<rect x="854.8" y="240" width="4.2" height="33" fill="none" stroke="#b4b4b4" stroke-width="1"/>
<rect x="776" y="330" width="14" height="25" fill="#fafafa" stroke="#b4b4b4" stroke-width="1"/>
<line x1="776" y1="333.6" x2="790" y2="333.6" stroke="#c8c8c8" stroke-width="0.8"/>
<line x1="776" y1="337.1" x2="790" y2="337.1" stroke="#c8c8c8" stroke-width="0.8"/>
<line x1="776" y1="340.7" x2="790" y2="340.7" stroke="#c8c8c8" stroke-width="0.8"/>
<line x1="776" y1="344.3" x2="790" y2="344.3" stroke="#c8c8c8" stroke-width="0.8"/>
<line x1="776" y1="347.9" x2="790" y2="347.9" stroke="#c8c8c8" stroke-width="0.8"/>
<line x1="776" y1="351.4" x2="790" y2="351.4" stroke="#c8c8c8" stroke-width="0.8"/>
<rect x="790" y="330" width="20" height="10" fill="#fafafa" stroke="#b4b4b4" stroke-width="1"/>
<line x1="790" y1="335.0" x2="810" y2="335.0" stroke="#c8c8c8" stroke-width="0.8"/>
<rect x="829.4" y="358.5" width="30.6" height="24.0" fill="#fff" stroke="#b4b4b4" stroke-width="1"/>
<rect x="854" y="359.5" width="6" height="10.0" fill="#fff" stroke="#b4b4b4" stroke-width="1"/>
<rect x="854" y="371.5" width="6" height="10.0" fill="#fff" stroke="#b4b4b4" stroke-width="1"/>
<rect x="853" y="350.5" width="7.5" height="8.0" fill="#fff" stroke="#b4b4b4" stroke-width="1"/>
<rect x="853" y="382.5" width="7.5" height="8.0" fill="#fff" stroke="#b4b4b4" stroke-width="1"/>
<rect x="796" y="382" width="12" height="33" fill="#f7f7f7" stroke="#b4b4b4" stroke-width="1"/>
<line x1="796" y1="393.0" x2="808" y2="393.0" stroke="#b4b4b4" stroke-width="1"/>
<line x1="796" y1="404.0" x2="808" y2="404.0" stroke="#b4b4b4" stroke-width="1"/>
<rect x="804.4" y="382" width="3.6" height="33" fill="none" stroke="#b4b4b4" stroke-width="1"/>
<rect x="741" y="398.5" width="10.7" height="13.5" fill="#fff" stroke="#b4b4b4" stroke-width="1"/>
<rect x="743.5500000000001" y="393.0" width="5.6" height="5.5" fill="#fff" stroke="#b4b4b4" stroke-width="1"/>
<rect x="743.5500000000001" y="412" width="5.6" height="5.5" fill="#fff" stroke="#b4b4b4" stroke-width="1"/>
<rect x="735.5" y="402.45" width="5.5" height="5.6" fill="#fff" stroke="#b4b4b4" stroke-width="1"/>
<rect x="674" y="374" width="26" height="10" fill="#f4f4f4" stroke="#b4b4b4" stroke-width="1"/>
<line x1="687.0" y1="374" x2="687.0" y2="384" stroke="#b4b4b4" stroke-width="1"/>
<rect x="710" y="374" width="26" height="10" fill="#f4f4f4" stroke="#b4b4b4" stroke-width="1"/>
<line x1="723.0" y1="374" x2="723.0" y2="384" stroke="#b4b4b4" stroke-width="1"/>
<rect x="693.7" y="386" width="7.8" height="47" fill="#f4f4f4" stroke="#b4b4b4" stroke-width="1"/>
<line x1="693.7" y1="395.4" x2="701.5" y2="395.4" stroke="#b4b4b4" stroke-width="1"/>
<line x1="693.7" y1="404.8" x2="701.5" y2="404.8" stroke="#b4b4b4" stroke-width="1"/>
<line x1="693.7" y1="414.2" x2="701.5" y2="414.2" stroke="#b4b4b4" stroke-width="1"/>
<line x1="693.7" y1="423.6" x2="701.5" y2="423.6" stroke="#b4b4b4" stroke-width="1"/>
<rect x="708" y="386" width="8" height="47" fill="#f4f4f4" stroke="#b4b4b4" stroke-width="1"/>
<line x1="708" y1="395.4" x2="716" y2="395.4" stroke="#b4b4b4" stroke-width="1"/>
<line x1="708" y1="404.8" x2="716" y2="404.8" stroke="#b4b4b4" stroke-width="1"/>
<line x1="708" y1="414.2" x2="716" y2="414.2" stroke="#b4b4b4" stroke-width="1"/>
<line x1="708" y1="423.6" x2="716" y2="423.6" stroke="#b4b4b4" stroke-width="1"/>
<rect x="657" y="396.8" width="11.7" height="14.2" fill="#fff" stroke="#b4b4b4" stroke-width="1"/>
<rect x="660.0500000000001" y="391.3" width="5.6" height="5.5" fill="#fff" stroke="#b4b4b4" stroke-width="1"/>
<rect x="660.0500000000001" y="411" width="5.6" height="5.5" fill="#fff" stroke="#b4b4b4" stroke-width="1"/>
<rect x="668.7" y="401.09999999999997" width="5.5" height="5.6" fill="#fff" stroke="#b4b4b4" stroke-width="1"/>
<rect x="555" y="330" width="25" height="10" fill="#fafafa" stroke="#b4b4b4" stroke-width="1"/>
<line x1="555" y1="335.0" x2="580" y2="335.0" stroke="#c8c8c8" stroke-width="0.8"/>
<rect x="609" y="337" width="8" height="15" fill="#fafafa" stroke="#b4b4b4" stroke-width="1"/>
<line x1="609" y1="340.0" x2="617" y2="340.0" stroke="#c8c8c8" stroke-width="0.8"/>
<line x1="609" y1="343.0" x2="617" y2="343.0" stroke="#c8c8c8" stroke-width="0.8"/>
<line x1="609" y1="346.0" x2="617" y2="346.0" stroke="#c8c8c8" stroke-width="0.8"/>
<line x1="609" y1="349.0" x2="617" y2="349.0" stroke="#c8c8c8" stroke-width="0.8"/>
<rect x="572.5" y="383.4" width="30.3" height="25.0" fill="#fff" stroke="#b4b4b4" stroke-width="1"/>
<rect x="596.8" y="384.4" width="6.0" height="10.5" fill="#fff" stroke="#b4b4b4" stroke-width="1"/>
<rect x="596.8" y="396.9" width="6.0" height="10.5" fill="#fff" stroke="#b4b4b4" stroke-width="1"/>
<rect x="595.8" y="375.4" width="7.5" height="8.0" fill="#fff" stroke="#b4b4b4" stroke-width="1"/>
<rect x="595.8" y="408.4" width="7.5" height="8.0" fill="#fff" stroke="#b4b4b4" stroke-width="1"/>
<rect x="609" y="383" width="8" height="32" fill="#f4f4f4" stroke="#b4b4b4" stroke-width="1"/>
<line x1="609" y1="393.7" x2="617" y2="393.7" stroke="#b4b4b4" stroke-width="1"/>
<line x1="609" y1="404.3" x2="617" y2="404.3" stroke="#b4b4b4" stroke-width="1"/>
<rect x="544" y="381.6" width="8" height="33.0" fill="#f7f7f7" stroke="#b4b4b4" stroke-width="1"/>
<line x1="544" y1="392.6" x2="552" y2="392.6" stroke="#b4b4b4" stroke-width="1"/>
<line x1="544" y1="403.6" x2="552" y2="403.6" stroke="#b4b4b4" stroke-width="1"/>
<rect x="549.6" y="381.6" width="2.4" height="33.0" fill="none" stroke="#b4b4b4" stroke-width="1"/>
<rect x="492.4" y="390.7" width="10.6" height="15.6" fill="#fff" stroke="#b4b4b4" stroke-width="1"/>
<rect x="494.9" y="385.2" width="5.6" height="5.5" fill="#fff" stroke="#b4b4b4" stroke-width="1"/>
<rect x="494.9" y="406.3" width="5.6" height="5.5" fill="#fff" stroke="#b4b4b4" stroke-width="1"/>
<rect x="486.9" y="395.7" width="5.5" height="5.6" fill="#fff" stroke="#b4b4b4" stroke-width="1"/>
<rect x="509" y="383" width="3" height="30" fill="#f2f2f2" stroke="#b4b4b4" stroke-width="1"/>
<rect x="447" y="329" width="6" height="36" fill="#fafafa" stroke="#b4b4b4" stroke-width="1"/>
<line x1="447" y1="333.5" x2="453" y2="333.5" stroke="#c8c8c8" stroke-width="0.8"/>
<line x1="447" y1="338.0" x2="453" y2="338.0" stroke="#c8c8c8" stroke-width="0.8"/>
<line x1="447" y1="342.5" x2="453" y2="342.5" stroke="#c8c8c8" stroke-width="0.8"/>
<line x1="447" y1="347.0" x2="453" y2="347.0" stroke="#c8c8c8" stroke-width="0.8"/>
<line x1="447" y1="351.5" x2="453" y2="351.5" stroke="#c8c8c8" stroke-width="0.8"/>
<line x1="447" y1="356.0" x2="453" y2="356.0" stroke="#c8c8c8" stroke-width="0.8"/>
<line x1="447" y1="360.5" x2="453" y2="360.5" stroke="#c8c8c8" stroke-width="0.8"/>
<rect x="444" y="383" width="8" height="32.5" fill="#f4f4f4" stroke="#b4b4b4" stroke-width="1"/>
<line x1="444" y1="391.1" x2="452" y2="391.1" stroke="#b4b4b4" stroke-width="1"/>
<line x1="444" y1="399.2" x2="452" y2="399.2" stroke="#b4b4b4" stroke-width="1"/>
<line x1="444" y1="407.4" x2="452" y2="407.4" stroke="#b4b4b4" stroke-width="1"/>
<rect x="459.4" y="373.3" width="27.6" height="9.7" fill="#f4f4f4" stroke="#b4b4b4" stroke-width="1"/>
<line x1="473.2" y1="373.3" x2="473.2" y2="383" stroke="#b4b4b4" stroke-width="1"/>
<rect x="459.4" y="383" width="7.6" height="45" fill="#f4f4f4" stroke="#b4b4b4" stroke-width="1"/>
<line x1="459.4" y1="392.0" x2="467" y2="392.0" stroke="#b4b4b4" stroke-width="1"/>
<line x1="459.4" y1="401.0" x2="467" y2="401.0" stroke="#b4b4b4" stroke-width="1"/>
<line x1="459.4" y1="410.0" x2="467" y2="410.0" stroke="#b4b4b4" stroke-width="1"/>
<line x1="459.4" y1="419.0" x2="467" y2="419.0" stroke="#b4b4b4" stroke-width="1"/>
<rect x="335" y="383" width="10" height="29.8" fill="#f4f4f4" stroke="#b4b4b4" stroke-width="1"/>
<line x1="335" y1="392.9" x2="345" y2="392.9" stroke="#b4b4b4" stroke-width="1"/>
<line x1="335" y1="402.9" x2="345" y2="402.9" stroke="#b4b4b4" stroke-width="1"/>
<rect x="382.5" y="370" width="8.5" height="41" fill="#f4f4f4" stroke="#b4b4b4" stroke-width="1"/>
<line x1="382.5" y1="378.2" x2="391" y2="378.2" stroke="#b4b4b4" stroke-width="1"/>
<line x1="382.5" y1="386.4" x2="391" y2="386.4" stroke="#b4b4b4" stroke-width="1"/>
<line x1="382.5" y1="394.6" x2="391" y2="394.6" stroke="#b4b4b4" stroke-width="1"/>
<line x1="382.5" y1="402.8" x2="391" y2="402.8" stroke="#b4b4b4" stroke-width="1"/>
<circle cx="387" cy="386" r="3" fill="none" stroke="#b4b4b4" stroke-width="1"/><circle cx="397" cy="363" r="3" fill="none" stroke="#b4b4b4" stroke-width="1"/>
<rect x="378.4" y="421.5" width="30.4" height="18.5" fill="#fff" stroke="#b4b4b4" stroke-width="1"/>
<rect x="383" y="416" width="6" height="5.5" fill="#fff" stroke="#b4b4b4" stroke-width="1"/>
<rect x="399" y="416" width="6" height="5.5" fill="#fff" stroke="#b4b4b4" stroke-width="1"/>
<rect x="372" y="425" width="6.4" height="6" fill="#fff" stroke="#b4b4b4" stroke-width="1"/>
<rect x="408.8" y="425" width="5.2" height="6" fill="#fff" stroke="#b4b4b4" stroke-width="1"/>
<rect x="396.8" y="368" width="7.8" height="38" fill="#f4f4f4" stroke="#b4b4b4" stroke-width="1"/>
<line x1="396.8" y1="377.5" x2="404.6" y2="377.5" stroke="#b4b4b4" stroke-width="1"/>
<line x1="396.8" y1="387.0" x2="404.6" y2="387.0" stroke="#b4b4b4" stroke-width="1"/>
<line x1="396.8" y1="396.5" x2="404.6" y2="396.5" stroke="#b4b4b4" stroke-width="1"/>
<circle cx="400.7" cy="378" r="3" fill="none" stroke="#b4b4b4" stroke-width="1"/>
<rect x="415" y="385" width="15" height="30" fill="#f4f4f4" stroke="#b4b4b4" stroke-width="1"/>
<line x1="415" y1="395.0" x2="430" y2="395.0" stroke="#b4b4b4" stroke-width="1"/>
<line x1="415" y1="405.0" x2="430" y2="405.0" stroke="#b4b4b4" stroke-width="1"/>
<rect x="233" y="278.5" width="29.5" height="11.0" fill="#8298ee" />
<rect x="236.8" y="281.8" width="7.1" height="4.4" rx="1.5" fill="#fff" opacity="0.9"/>
<rect x="251.6" y="281.8" width="7.1" height="4.4" rx="1.5" fill="#fff" opacity="0.9"/>
<rect x="285" y="251" width="28.5" height="10.5" fill="#8298ee" />
<rect x="288.7" y="254.2" width="6.8" height="4.2" rx="1.5" fill="#fff" opacity="0.9"/>
<rect x="303.0" y="254.2" width="6.8" height="4.2" rx="1.5" fill="#fff" opacity="0.9"/>
<rect x="420.7" y="257.7" width="29.3" height="11.1" fill="#8298ee" />
<rect x="424.5" y="261.0" width="7.0" height="4.4" rx="1.5" fill="#fff" opacity="0.9"/>
<rect x="439.2" y="261.0" width="7.0" height="4.4" rx="1.5" fill="#fff" opacity="0.9"/>
<rect x="456" y="288.7" width="58.7" height="12.0" fill="#8298ee" />
<rect x="458.7" y="292.3" width="14.1" height="4.8" rx="1.5" fill="#fff" opacity="0.9"/>
<rect x="478.3" y="292.3" width="14.1" height="4.8" rx="1.5" fill="#fff" opacity="0.9"/>
<rect x="497.9" y="292.3" width="14.1" height="4.8" rx="1.5" fill="#fff" opacity="0.9"/>
<rect x="556" y="251" width="29" height="10.5" fill="#8298ee" />
<rect x="559.8" y="254.2" width="7.0" height="4.2" rx="1.5" fill="#fff" opacity="0.9"/>
<rect x="574.3" y="254.2" width="7.0" height="4.2" rx="1.5" fill="#fff" opacity="0.9"/>
<rect x="723.8" y="251" width="30.2" height="11" fill="#8298ee" />
<rect x="727.7" y="254.3" width="7.2" height="4.4" rx="1.5" fill="#fff" opacity="0.9"/>
<rect x="742.8" y="254.3" width="7.2" height="4.4" rx="1.5" fill="#fff" opacity="0.9"/>
<rect x="760" y="271.5" width="29" height="10.0" fill="#8298ee" />
<rect x="763.8" y="274.5" width="7.0" height="4.0" rx="1.5" fill="#fff" opacity="0.9"/>
<rect x="778.3" y="274.5" width="7.0" height="4.0" rx="1.5" fill="#fff" opacity="0.9"/>
<rect x="828" y="298" width="32" height="12" fill="#8298ee" />
<rect x="832.2" y="301.6" width="7.7" height="4.8" rx="1.5" fill="#fff" opacity="0.9"/>
<rect x="848.2" y="301.6" width="7.7" height="4.8" rx="1.5" fill="#fff" opacity="0.9"/>
<rect x="672" y="363.3" width="68" height="11.0" fill="#8298ee" />
<rect x="672.3" y="366.6" width="16.3" height="4.4" rx="1.5" fill="#fff" opacity="0.9"/>
<rect x="689.3" y="366.6" width="16.3" height="4.4" rx="1.5" fill="#fff" opacity="0.9"/>
<rect x="706.3" y="366.6" width="16.3" height="4.4" rx="1.5" fill="#fff" opacity="0.9"/>
<rect x="723.3" y="366.6" width="16.3" height="4.4" rx="1.5" fill="#fff" opacity="0.9"/>
<rect x="360.8" y="355" width="66.2" height="18" fill="#8298ee" />
<rect x="369.4" y="360.4" width="15.9" height="7.2" rx="1.5" fill="#fff" opacity="0.9"/>
<rect x="402.5" y="360.4" width="15.9" height="7.2" rx="1.5" fill="#fff" opacity="0.9"/>
<rect x="410" y="348" width="17" height="9" fill="#8298ee" />
<rect x="416.5" y="350.7" width="4.1" height="3.6" rx="1.5" fill="#fff" opacity="0.9"/>
<rect x="459" y="363.2" width="30.6" height="10.1" fill="#8298ee" />
<rect x="463.0" y="366.2" width="7.3" height="4.0" rx="1.5" fill="#fff" opacity="0.9"/>
<rect x="478.3" y="366.2" width="7.3" height="4.0" rx="1.5" fill="#fff" opacity="0.9"/>
<rect x="545" y="276" width="5" height="6" fill="#8298ee" />
<rect x="259.5" y="287" width="3.5" height="5" fill="#4f74c8" />
<line x1="261.25" y1="287" x2="261.25" y2="292" stroke="#15285a" stroke-width="2.1" stroke-dasharray="2.2 1"/>
<rect x="233" y="304.5" width="30" height="3.0" fill="#4f74c8" />
<line x1="233" y1="306.0" x2="263" y2="306.0" stroke="#15285a" stroke-width="1.7999999999999998" stroke-dasharray="2.2 1"/>
<rect x="259.5" y="304" width="3.5" height="9" fill="#4f74c8" />
<line x1="261.25" y1="304" x2="261.25" y2="313" stroke="#15285a" stroke-width="2.1" stroke-dasharray="2.2 1"/>
<rect x="259" y="315" width="4" height="28" fill="#4f74c8" />
<line x1="261.0" y1="315" x2="261.0" y2="343" stroke="#15285a" stroke-width="2.4" stroke-dasharray="2.2 1"/>
<rect x="279.5" y="329" width="4.2" height="64.5" fill="#4f74c8" />
<line x1="281.6" y1="329" x2="281.6" y2="393.5" stroke="#15285a" stroke-width="2.519999999999993" stroke-dasharray="2.2 1"/>
<rect x="327.8" y="329" width="4.5" height="39" fill="#4f74c8" />
<line x1="330.05" y1="329" x2="330.05" y2="368" stroke="#15285a" stroke-width="2.6999999999999997" stroke-dasharray="2.2 1"/>
<rect x="333" y="366" width="12" height="4" fill="#4f74c8" />
<line x1="333" y1="368.0" x2="345" y2="368.0" stroke="#15285a" stroke-width="2.4" stroke-dasharray="2.2 1"/>
<rect x="311" y="261" width="3" height="35" fill="#4f74c8" />
<line x1="312.5" y1="261" x2="312.5" y2="296" stroke="#15285a" stroke-width="1.7999999999999998" stroke-dasharray="2.2 1"/>
<rect x="328.5" y="216" width="3.5" height="27" fill="#4f74c8" />
<line x1="330.25" y1="216" x2="330.25" y2="243" stroke="#15285a" stroke-width="2.1" stroke-dasharray="2.2 1"/>
<rect x="348" y="266.5" width="34" height="3.5" fill="#4f74c8" />
<line x1="348" y1="268.25" x2="382" y2="268.25" stroke="#15285a" stroke-width="2.1" stroke-dasharray="2.2 1"/>
<rect x="382.8" y="215.6" width="4.2" height="28.4" fill="#4f74c8" />
<line x1="384.9" y1="215.6" x2="384.9" y2="244" stroke="#15285a" stroke-width="2.519999999999993" stroke-dasharray="2.2 1"/>
<rect x="382.8" y="271.5" width="4.2" height="14.5" fill="#4f74c8" />
<line x1="384.9" y1="271.5" x2="384.9" y2="286" stroke="#15285a" stroke-width="2.519999999999993" stroke-dasharray="2.2 1"/>
<rect x="313" y="296" width="17" height="5" fill="#4f74c8" />
<line x1="313" y1="298.5" x2="330" y2="298.5" stroke="#15285a" stroke-width="3.0" stroke-dasharray="2.2 1"/>
<rect x="310" y="301" width="4" height="8" fill="#4f74c8" />
<line x1="312.0" y1="301" x2="312.0" y2="309" stroke="#15285a" stroke-width="2.4" stroke-dasharray="2.2 1"/>
<rect x="288" y="324.5" width="22" height="4.0" fill="#4f74c8" />
<line x1="288" y1="326.5" x2="310" y2="326.5" stroke="#15285a" stroke-width="2.4" stroke-dasharray="2.2 1"/>
<rect x="346" y="297" width="9" height="4" fill="#4f74c8" />
<line x1="346" y1="299.0" x2="355" y2="299.0" stroke="#15285a" stroke-width="2.4" stroke-dasharray="2.2 1"/>
<rect x="388" y="297" width="10" height="4" fill="#4f74c8" />
<line x1="388" y1="299.0" x2="398" y2="299.0" stroke="#15285a" stroke-width="2.4" stroke-dasharray="2.2 1"/>
<rect x="412" y="297" width="8" height="4" fill="#4f74c8" />
<line x1="412" y1="299.0" x2="420" y2="299.0" stroke="#15285a" stroke-width="2.4" stroke-dasharray="2.2 1"/>
<rect x="387" y="257.5" width="14.7" height="3.5" fill="#4f74c8" />
<line x1="387" y1="259.25" x2="401.7" y2="259.25" stroke="#15285a" stroke-width="2.1" stroke-dasharray="2.2 1"/>
<rect x="422" y="268" width="2.5" height="30" fill="#4f74c8" />
<line x1="423.25" y1="268" x2="423.25" y2="298" stroke="#15285a" stroke-width="1.5" stroke-dasharray="2.2 1"/>
<rect x="413" y="297" width="37" height="4" fill="#4f74c8" />
<line x1="413" y1="299.0" x2="450" y2="299.0" stroke="#15285a" stroke-width="2.4" stroke-dasharray="2.2 1"/>
<rect x="601" y="216" width="3" height="29" fill="#4f74c8" />
<line x1="602.5" y1="216" x2="602.5" y2="245" stroke="#15285a" stroke-width="1.7999999999999998" stroke-dasharray="2.2 1"/>
<rect x="582" y="262" width="3" height="10" fill="#4f74c8" />
<line x1="583.5" y1="262" x2="583.5" y2="272" stroke="#15285a" stroke-width="1.7999999999999998" stroke-dasharray="2.2 1"/>
<rect x="581" y="284" width="4" height="12" fill="#4f74c8" />
<line x1="583.0" y1="284" x2="583.0" y2="296" stroke="#15285a" stroke-width="2.4" stroke-dasharray="2.2 1"/>
<rect x="590" y="296.5" width="15" height="4.0" fill="#4f74c8" />
<line x1="590" y1="298.5" x2="605" y2="298.5" stroke="#15285a" stroke-width="2.4" stroke-dasharray="2.2 1"/>
<rect x="705" y="211.5" width="3" height="33.5" fill="#4f74c8" />
<line x1="706.5" y1="211.5" x2="706.5" y2="245" stroke="#15285a" stroke-width="1.7999999999999998" stroke-dasharray="2.2 1"/>
<rect x="724" y="258" width="3" height="17" fill="#4f74c8" />
<line x1="725.5" y1="258" x2="725.5" y2="275" stroke="#15285a" stroke-width="1.7999999999999998" stroke-dasharray="2.2 1"/>
<rect x="625" y="271.5" width="58" height="3.5" fill="#4f74c8" />
<line x1="625" y1="273.25" x2="683" y2="273.25" stroke="#15285a" stroke-width="2.1" stroke-dasharray="2.2 1"/>
<rect x="805" y="235.7" width="3" height="42.3" fill="#4f74c8" />
<line x1="806.5" y1="235.7" x2="806.5" y2="278" stroke="#15285a" stroke-width="1.7999999999999998" stroke-dasharray="2.2 1"/>
<rect x="809" y="297" width="9" height="3" fill="#4f74c8" />
<line x1="809" y1="298.5" x2="818" y2="298.5" stroke="#15285a" stroke-width="1.7999999999999998" stroke-dasharray="2.2 1"/>
<rect x="828" y="320" width="4" height="15" fill="#4f74c8" />
<line x1="830.0" y1="320" x2="830.0" y2="335" stroke="#15285a" stroke-width="2.4" stroke-dasharray="2.2 1"/>
<rect x="828" y="297.5" width="32" height="3.0" fill="#4f74c8" />
<line x1="828" y1="299.0" x2="860" y2="299.0" stroke="#15285a" stroke-width="1.7999999999999998" stroke-dasharray="2.2 1"/>
<rect x="828" y="300" width="3" height="9" fill="#4f74c8" />
<line x1="829.5" y1="300" x2="829.5" y2="309" stroke="#15285a" stroke-width="1.7999999999999998" stroke-dasharray="2.2 1"/>
<rect x="757" y="324" width="55" height="3" fill="#4f74c8" />
<line x1="757" y1="325.5" x2="812" y2="325.5" stroke="#15285a" stroke-width="1.7999999999999998" stroke-dasharray="2.2 1"/>
<rect x="812" y="324" width="3" height="16" fill="#4f74c8" />
<line x1="813.5" y1="324" x2="813.5" y2="340" stroke="#15285a" stroke-width="1.7999999999999998" stroke-dasharray="2.2 1"/>
<rect x="770" y="355" width="38" height="3" fill="#4f74c8" />
<line x1="770" y1="356.5" x2="808" y2="356.5" stroke="#15285a" stroke-width="1.7999999999999998" stroke-dasharray="2.2 1"/>
<rect x="770" y="327" width="3" height="31" fill="#4f74c8" />
<line x1="771.5" y1="327" x2="771.5" y2="358" stroke="#15285a" stroke-width="1.7999999999999998" stroke-dasharray="2.2 1"/>
<rect x="782" y="328" width="4" height="29" fill="#4f74c8" />
<line x1="784.0" y1="328" x2="784.0" y2="357" stroke="#15285a" stroke-width="2.4" stroke-dasharray="2.2 1"/>
<rect x="753.3" y="378" width="3.2" height="37" fill="#4f74c8" />
<line x1="754.9" y1="378" x2="754.9" y2="415" stroke="#15285a" stroke-width="1.9200000000000272" stroke-dasharray="2.2 1"/>
<rect x="656" y="324" width="16" height="4" fill="#4f74c8" />
<line x1="656" y1="326.0" x2="672" y2="326.0" stroke="#15285a" stroke-width="2.4" stroke-dasharray="2.2 1"/>
<rect x="673" y="329" width="3" height="36" fill="#4f74c8" />
<line x1="674.5" y1="329" x2="674.5" y2="365" stroke="#15285a" stroke-width="1.7999999999999998" stroke-dasharray="2.2 1"/>
<rect x="736" y="329" width="4" height="36" fill="#4f74c8" />
<line x1="738.0" y1="329" x2="738.0" y2="365" stroke="#15285a" stroke-width="2.4" stroke-dasharray="2.2 1"/>
<rect x="653.5" y="378" width="3.5" height="37" fill="#4f74c8" />
<line x1="655.25" y1="378" x2="655.25" y2="415" stroke="#15285a" stroke-width="2.1" stroke-dasharray="2.2 1"/>
<rect x="551" y="324" width="21.6" height="4" fill="#4f74c8" />
<line x1="551" y1="326.0" x2="572.6" y2="326.0" stroke="#15285a" stroke-width="2.4" stroke-dasharray="2.2 1"/>
<rect x="554" y="378" width="3.5" height="37" fill="#4f74c8" />
<line x1="555.75" y1="378" x2="555.75" y2="415" stroke="#15285a" stroke-width="2.1" stroke-dasharray="2.2 1"/>
<rect x="535" y="353.2" width="28" height="3.8" fill="#4f74c8" />
<line x1="535" y1="355.1" x2="563" y2="355.1" stroke="#15285a" stroke-width="2.280000000000007" stroke-dasharray="2.2 1"/>
<rect x="577" y="353" width="68" height="4" fill="#4f74c8" />
<line x1="577" y1="355.0" x2="645" y2="355.0" stroke="#15285a" stroke-width="2.4" stroke-dasharray="2.2 1"/>
<rect x="580" y="330" width="3" height="20" fill="#4f74c8" />
<line x1="581.5" y1="330" x2="581.5" y2="350" stroke="#15285a" stroke-width="1.7999999999999998" stroke-dasharray="2.2 1"/>
<rect x="503" y="352" width="17" height="4" fill="#4f74c8" />
<line x1="503" y1="354.0" x2="520" y2="354.0" stroke="#15285a" stroke-width="2.4" stroke-dasharray="2.2 1"/>
<rect x="530" y="352" width="22" height="4" fill="#4f74c8" />
<line x1="530" y1="354.0" x2="552" y2="354.0" stroke="#15285a" stroke-width="2.4" stroke-dasharray="2.2 1"/>
<rect x="445" y="363" width="8" height="3" fill="#4f74c8" />
<line x1="445" y1="364.5" x2="453" y2="364.5" stroke="#15285a" stroke-width="1.7999999999999998" stroke-dasharray="2.2 1"/>
<rect x="485" y="326" width="3" height="24" fill="#4f74c8" />
<line x1="486.5" y1="326" x2="486.5" y2="350" stroke="#15285a" stroke-width="1.7999999999999998" stroke-dasharray="2.2 1"/>
<rect x="486" y="352" width="4" height="16" fill="#4f74c8" />
<line x1="488.0" y1="352" x2="488.0" y2="368" stroke="#15285a" stroke-width="2.4" stroke-dasharray="2.2 1"/>
<rect x="363" y="329" width="3" height="21" fill="#4f74c8" />
<line x1="364.5" y1="329" x2="364.5" y2="350" stroke="#15285a" stroke-width="1.7999999999999998" stroke-dasharray="2.2 1"/>
<rect x="392.2" y="380" width="3.6" height="35" fill="#4f74c8" />
<line x1="394.0" y1="380" x2="394.0" y2="415" stroke="#15285a" stroke-width="2.1600000000000135" stroke-dasharray="2.2 1"/>
<rect x="227" y="209.5" width="6" height="211.5" fill="#24509f" />
<rect x="228.3" y="209.5" width="3.4" height="211.5" fill="#122c6c" />
<rect x="279" y="188.5" width="6.5" height="112.5" fill="#24509f" />
<rect x="280.3" y="188.5" width="3.9" height="112.5" fill="#122c6c" />
<rect x="279" y="295" width="34" height="6" fill="#24509f" />
<rect x="279" y="296.3" width="34" height="3.4" fill="#122c6c" />
<rect x="233" y="337.5" width="30.5" height="5.5" fill="#24509f" />
<rect x="233" y="338.8" width="30.5" height="2.9" fill="#122c6c" />
<rect x="279" y="324" width="9" height="5" fill="#24509f" />
<rect x="279" y="325.3" width="9" height="2.4" fill="#122c6c" />
<rect x="279" y="393.5" width="5" height="26.5" fill="#24509f" />
<rect x="280.3" y="393.5" width="2.4" height="26.5" fill="#122c6c" />
<rect x="310" y="322.8" width="34.3" height="6.5" fill="#24509f" />
<rect x="310" y="324.1" width="34.3" height="3.9" fill="#122c6c" />
<rect x="327" y="368" width="6.5" height="71.7" fill="#24509f" />
<rect x="328.3" y="368" width="3.9" height="71.7" fill="#122c6c" />
<rect x="327.4" y="188.5" width="5.9" height="27.5" fill="#24509f" />
<rect x="328.7" y="188.5" width="3.3" height="27.5" fill="#122c6c" />
<rect x="327.4" y="243" width="5.9" height="27" fill="#24509f" />
<rect x="328.7" y="243" width="3.3" height="27" fill="#122c6c" />
<rect x="381.4" y="188.5" width="6.9" height="27.1" fill="#24509f" />
<rect x="382.7" y="188.5" width="4.3" height="27.1" fill="#122c6c" />
<rect x="381.4" y="244" width="6.9" height="27.5" fill="#24509f" />
<rect x="382.7" y="244" width="4.3" height="27.5" fill="#122c6c" />
<rect x="381.4" y="286" width="6.9" height="15" fill="#24509f" />
<rect x="382.7" y="286" width="4.3" height="15" fill="#122c6c" />
<rect x="451.3" y="159.3" width="5.2" height="141.4" fill="#24509f" />
<rect x="452.6" y="159.3" width="2.6" height="141.4" fill="#122c6c" />
<rect x="550" y="158.6" width="5.5" height="142.1" fill="#24509f" />
<rect x="551.3" y="158.6" width="2.9" height="142.1" fill="#122c6c" />
<rect x="488.3" y="181.7" width="39.2" height="5.0" fill="#24509f" />
<rect x="488.3" y="183.0" width="39.2" height="2.4" fill="#122c6c" />
<rect x="488.3" y="181" width="8.4" height="102" fill="#24509f" />
<rect x="489.6" y="181" width="5.8" height="102" fill="#122c6c" />
<rect x="520" y="181" width="5.8" height="12.3" fill="#24509f" />
<rect x="521.3" y="181" width="3.2" height="12.3" fill="#122c6c" />
<rect x="520" y="205" width="5.8" height="29" fill="#24509f" />
<rect x="521.3" y="205" width="3.2" height="29" fill="#122c6c" />
<rect x="520" y="253.3" width="5.8" height="9.2" fill="#24509f" />
<rect x="521.3" y="253.3" width="3.2" height="9.2" fill="#122c6c" />
<rect x="496.7" y="210.8" width="29.1" height="6.7" fill="#24509f" />
<rect x="496.7" y="212.10000000000002" width="29.1" height="4.1" fill="#122c6c" />
<rect x="496.7" y="254" width="29.1" height="8.5" fill="#24509f" />
<rect x="496.7" y="255.3" width="29.1" height="5.9" fill="#122c6c" />
<rect x="456" y="282.7" width="70" height="6.0" fill="#24509f" />
<rect x="456" y="284.0" width="70" height="3.4" fill="#122c6c" />
<rect x="544" y="282" width="6" height="6" fill="#24509f" />
<rect x="544" y="283.3" width="6" height="3.4" fill="#122c6c" />
<rect x="541" y="181.2" width="9" height="4.6" fill="#24509f" />
<rect x="541" y="182.5" width="9" height="2.0" fill="#122c6c" />
<rect x="456" y="181.2" width="20" height="4.6" fill="#24509f" />
<rect x="456" y="182.5" width="20" height="2.0" fill="#122c6c" />
<rect x="599.6" y="188.5" width="5.1" height="27.5" fill="#2b7be0" />
<rect x="599" y="245" width="6" height="29.5" fill="#2b7be0" />
<rect x="556" y="297" width="34" height="4" fill="#8298ee" />
<rect x="653.7" y="188.5" width="6.3" height="112.5" fill="#2b7be0" />
<rect x="604" y="296" width="56" height="5" fill="#2b7be0" />
<rect x="703.6" y="188.5" width="5.4" height="23.0" fill="#2b7be0" />
<rect x="703.6" y="245" width="5.4" height="29.8" fill="#2b7be0" />
<rect x="709" y="296" width="50.5" height="4.5" fill="#2b7be0" />
<rect x="753.5" y="189.7" width="6.3" height="110.3" fill="#2b7be0" />
<rect x="755" y="295" width="15" height="5" fill="#2b7be0" />
<rect x="803.6" y="209" width="5.4" height="26.7" fill="#2b7be0" />
<rect x="803.6" y="278" width="5.4" height="22.8" fill="#2b7be0" />
<rect x="828" y="335.6" width="32" height="4.2" fill="#2b7be0" />
<rect x="751.8" y="355" width="6.2" height="23" fill="#24509f" />
<rect x="753.0999999999999" y="355" width="3.6" height="23" fill="#122c6c" />
<rect x="751.8" y="415" width="6.2" height="25" fill="#24509f" />
<rect x="753.0999999999999" y="415" width="3.6" height="25" fill="#122c6c" />
<rect x="808.5" y="352" width="5.2" height="28" fill="#24509f" />
<rect x="809.8" y="352" width="2.6" height="28" fill="#122c6c" />
<rect x="809.5" y="380" width="3.2" height="33" fill="#4f74c8" />
<line x1="811.1" y1="380" x2="811.1" y2="413" stroke="#15285a" stroke-width="1.9200000000000272" stroke-dasharray="2.2 1"/>
<rect x="808.5" y="413" width="5.2" height="27" fill="#24509f" />
<rect x="809.8" y="413" width="2.6" height="27" fill="#122c6c" />
<rect x="672" y="323" width="68" height="6.4" fill="#24509f" />
<rect x="672" y="324.3" width="68" height="3.8" fill="#122c6c" />
<rect x="701.5" y="324" width="6.5" height="116" fill="#24509f" />
<rect x="702.8" y="324" width="3.9" height="116" fill="#122c6c" />
<rect x="652" y="353" width="6.3" height="25" fill="#24509f" />
<rect x="653.3" y="353" width="3.7" height="25" fill="#122c6c" />
<rect x="652" y="415" width="6.3" height="25" fill="#24509f" />
<rect x="653.3" y="415" width="3.7" height="25" fill="#122c6c" />
<rect x="572.6" y="323" width="35.8" height="6.4" fill="#24509f" />
<rect x="572.6" y="324.3" width="35.8" height="3.8" fill="#122c6c" />
<rect x="602.9" y="324" width="5.5" height="116" fill="#24509f" />
<rect x="604.1999999999999" y="324" width="2.9" height="116" fill="#122c6c" />
<rect x="552.4" y="354" width="6.5" height="24" fill="#24509f" />
<rect x="553.6999999999999" y="354" width="3.9" height="24" fill="#122c6c" />
<rect x="552.4" y="415" width="6.5" height="25" fill="#24509f" />
<rect x="553.6999999999999" y="415" width="3.9" height="25" fill="#122c6c" />
<rect x="503.4" y="354" width="5.6" height="24" fill="#24509f" />
<rect x="504.7" y="354" width="3.0" height="24" fill="#122c6c" />
<rect x="504.5" y="378" width="3.5" height="37" fill="#4f74c8" />
<line x1="506.25" y1="378" x2="506.25" y2="415" stroke="#15285a" stroke-width="2.1" stroke-dasharray="2.2 1"/>
<rect x="503.4" y="415" width="5.6" height="25" fill="#24509f" />
<rect x="504.7" y="415" width="3.0" height="25" fill="#122c6c" />
<rect x="453.8" y="323.8" width="34.0" height="5.5" fill="#24509f" />
<rect x="453.8" y="325.1" width="34.0" height="2.9" fill="#122c6c" />
<rect x="453.8" y="324" width="5.6" height="116" fill="#24509f" />
<rect x="455.1" y="324" width="3.0" height="116" fill="#122c6c" />
<rect x="391" y="323" width="35.8" height="6.3" fill="#24509f" />
<rect x="391" y="324.3" width="35.8" height="3.7" fill="#122c6c" />
<rect x="391.2" y="350" width="5.6" height="30" fill="#24509f" />
<rect x="392.5" y="350" width="3.0" height="30" fill="#122c6c" />
<rect x="391.2" y="415" width="5.6" height="25" fill="#24509f" />
<rect x="392.5" y="415" width="3.0" height="25" fill="#122c6c" />
<rect x="859.5" y="268.7" width="7.0" height="14.7" fill="#111" />
<rect x="861.7" y="271" width="2.6" height="10" fill="#fff" />
<rect x="859.5" y="355.4" width="7.0" height="13.6" fill="#111" />
<rect x="861.7" y="357.7" width="2.6" height="9.0" fill="#fff" />
<path d="M233 293H239.5A3.5 3.5 0 0 1 239.5 300H233Z" fill="#111"/>
<ellipse cx="238.5" cy="296.5" rx="2.5" ry="1.5" fill="#fff"/>
<rect x="233" y="309" width="8" height="7" fill="#f0e0f0" stroke="#b05aa8" stroke-width="1.2"/>
<path d="M237.0 310V315M234 312.5H240" stroke="#c06ab0" stroke-width="1"/>
<path d="M233 318H236.0A3.0 3.0 0 0 1 236.0 324H233Z" fill="#111"/>
<ellipse cx="236.3" cy="321.0" rx="1.5" ry="1.3" fill="#fff"/>
<rect x="233" y="324" width="26" height="13" fill="#111" />
<rect x="235.6" y="328.6" width="18.2" height="5.2" rx="2.6" fill="#fff"/>
<rect x="301.5" y="260" width="9.5" height="11" fill="#f0e0f0" stroke="#b05aa8" stroke-width="1.2"/>
<path d="M306.25 261V270M302.5 265.5H310" stroke="#c06ab0" stroke-width="1"/>
<path d="M285 262H292.5A3.5 3.5 0 0 1 292.5 269H285Z" fill="#111"/>
<ellipse cx="291.1" cy="265.5" rx="2.8" ry="1.5" fill="#fff"/>
<path d="M285 275H286.5A3.5 3.5 0 0 1 286.5 282H285Z" fill="#111"/>
<ellipse cx="287.8" cy="278.5" rx="1.2" ry="1.5" fill="#fff"/>
<rect x="285" y="285" width="26" height="10" fill="#111" />
<rect x="287.6" y="288.5" width="18.2" height="4.0" rx="2.0" fill="#fff"/>
<rect x="354" y="288" width="28" height="6" fill="#222" />
<rect x="354" y="288" width="28" height="6" fill="url(#hg)"/>
<rect x="354" y="294" width="28" height="7" fill="#111" />
<rect x="423" y="267" width="10" height="9" fill="#f0e0f0" stroke="#b05aa8" stroke-width="1.2"/>
<path d="M428.0 268V275M424 271.5H432" stroke="#c06ab0" stroke-width="1"/>
<path d="M426 289H429.5A4.5 4.5 0 0 1 429.5 298H426Z" fill="#111"/>
<ellipse cx="430.4" cy="293.5" rx="2.0" ry="2.0" fill="#fff"/>
<path d="M450 274 C438 274 437 282 443 284 C436 287 436 298 450 298" fill="none" stroke="#111" stroke-width="3"/>
<rect x="456" y="204" width="34" height="43.5" fill="#111" />
<rect x="457" y="205.6" width="5.5" height="2.6" fill="#fff" />
<rect x="464" y="205.6" width="7.5" height="2.6" fill="#fff" />
<rect x="475" y="205.6" width="7.5" height="2.6" fill="#fff" />
<rect x="484" y="205.6" width="5" height="2.6" fill="#fff" />
<rect x="457" y="210.35" width="5.5" height="2.6" fill="#fff" />
<rect x="464" y="210.35" width="7.5" height="2.6" fill="#fff" />
<rect x="475" y="210.35" width="7.5" height="2.6" fill="#fff" />
<rect x="484" y="210.35" width="5" height="2.6" fill="#fff" />
<rect x="457" y="215.1" width="5.5" height="2.6" fill="#fff" />
<rect x="464" y="215.1" width="7.5" height="2.6" fill="#fff" />
<rect x="475" y="215.1" width="7.5" height="2.6" fill="#fff" />
<rect x="484" y="215.1" width="5" height="2.6" fill="#fff" />
<rect x="457" y="219.85" width="5.5" height="2.6" fill="#fff" />
<rect x="464" y="219.85" width="7.5" height="2.6" fill="#fff" />
<rect x="475" y="219.85" width="7.5" height="2.6" fill="#fff" />
<rect x="484" y="219.85" width="5" height="2.6" fill="#fff" />
<rect x="457" y="224.6" width="5.5" height="2.6" fill="#fff" />
<rect x="464" y="224.6" width="7.5" height="2.6" fill="#fff" />
<rect x="475" y="224.6" width="7.5" height="2.6" fill="#fff" />
<rect x="484" y="224.6" width="5" height="2.6" fill="#fff" />
<rect x="457" y="229.35" width="5.5" height="2.6" fill="#fff" />
<rect x="464" y="229.35" width="7.5" height="2.6" fill="#fff" />
<rect x="475" y="229.35" width="7.5" height="2.6" fill="#fff" />
<rect x="484" y="229.35" width="5" height="2.6" fill="#fff" />
<rect x="457" y="234.1" width="5.5" height="2.6" fill="#fff" />
<rect x="464" y="234.1" width="7.5" height="2.6" fill="#fff" />
<rect x="475" y="234.1" width="7.5" height="2.6" fill="#fff" />
<rect x="484" y="234.1" width="5" height="2.6" fill="#fff" />
<rect x="457" y="238.85" width="5.5" height="2.6" fill="#fff" />
<rect x="464" y="238.85" width="7.5" height="2.6" fill="#fff" />
<rect x="475" y="238.85" width="7.5" height="2.6" fill="#fff" />
<rect x="484" y="238.85" width="5" height="2.6" fill="#fff" />
<rect x="457" y="243.6" width="5.5" height="2.6" fill="#fff" />
<rect x="464" y="243.6" width="7.5" height="2.6" fill="#fff" />
<rect x="475" y="243.6" width="7.5" height="2.6" fill="#fff" />
<rect x="484" y="243.6" width="5" height="2.6" fill="#fff" />
<line x1="457" y1="238" x2="468" y2="228" stroke="#111" stroke-width="2"/>
<rect x="456" y="265.3" width="33" height="4.7" fill="#222" />
<rect x="456" y="265.3" width="33" height="4.699999999999989" fill="url(#hg)"/>
<rect x="498.5" y="188.5" width="19.5" height="21.3" fill="#fff" stroke="#111" stroke-width="2.2"/>
<path d="M499 189 L516 209.5 M516 189 L499 209.5" stroke="#111" stroke-width="1"/>
<rect x="514" y="189" width="5" height="21" fill="#111" />
<rect x="498.5" y="219.3" width="19.5" height="33.2" fill="#fff" stroke="#111" stroke-width="2.2"/>
<path d="M499 220 L516 252 M516 220 L499 252" stroke="#111" stroke-width="1"/>
<rect x="514" y="230" width="5" height="23" fill="#111" />
<rect x="573" y="260" width="8" height="10" fill="#f0e0f0" stroke="#b05aa8" stroke-width="1.2"/>
<path d="M577.0 261V269M574 265.0H580" stroke="#c06ab0" stroke-width="1"/>
<path d="M556 263H562.5A3.5 3.5 0 0 1 562.5 270H556Z" fill="#111"/>
<ellipse cx="561.5" cy="266.5" rx="2.5" ry="1.5" fill="#fff"/>
<path d="M556 274H557.0A4.0 4.0 0 0 1 557.0 282H556Z" fill="#111"/>
<ellipse cx="558.8" cy="278.0" rx="1.2" ry="1.8" fill="#fff"/>
<rect x="556" y="284" width="25" height="14" fill="#111" />
<rect x="558.5" y="288.9" width="17.5" height="5.6" rx="2.8" fill="#fff"/>
<rect x="727" y="261" width="10" height="10" fill="#f0e0f0" stroke="#b05aa8" stroke-width="1.2"/>
<path d="M732.0 262V270M728 266.0H736" stroke="#c06ab0" stroke-width="1"/>
<path d="M744 263H750.5A3.5 3.5 0 0 1 750.5 270H744Z" fill="#111"/>
<ellipse cx="749.5" cy="266.5" rx="2.5" ry="1.5" fill="#fff"/>
<rect x="725" y="283" width="27" height="13" fill="#111" />
<rect x="727.7" y="287.6" width="18.9" height="5.2" rx="2.6" fill="#fff"/>
<rect x="662" y="293.5" width="29" height="2.5" fill="#111" />
<path d="M760 287H766.5A3.5 3.5 0 0 1 766.5 294H760Z" fill="#111"/>
<ellipse cx="765.5" cy="290.5" rx="2.5" ry="1.5" fill="#fff"/>
<rect x="834" y="299" width="9" height="10" fill="#f0e0f0" stroke="#b05aa8" stroke-width="1.2"/>
<path d="M838.5 300V308M835 304.0H842" stroke="#c06ab0" stroke-width="1"/>
<rect x="832" y="322" width="26" height="13" fill="#111" />
<rect x="834.6" y="326.6" width="18.2" height="5.2" rx="2.6" fill="#fff"/>
<path d="M860 310 C853 310 853 320 860 320" fill="#111"/>
<rect x="674" y="329" width="26" height="12" fill="#111" />
<rect x="676.6" y="333.2" width="18.2" height="4.8" rx="2.4" fill="#fff"/>
<rect x="710" y="329" width="26" height="12" fill="#111" />
<rect x="712.6" y="333.2" width="18.2" height="4.8" rx="2.4" fill="#fff"/>
<path d="M692 350H696.0A5.0 5.0 0 0 1 696.0 360H692Z" fill="#111"/>
<ellipse cx="697.0" cy="355.0" rx="2.2" ry="2.2" fill="#fff"/>
<path d="M709 350H713.0A5.0 5.0 0 0 1 713.0 360H709Z" fill="#111"/>
<ellipse cx="714.0" cy="355.0" rx="2.2" ry="2.2" fill="#fff"/>
<path d="M701 341 C690 345 690 356 701 357 M708 341 C719 345 719 356 708 357" fill="none" stroke="#111" stroke-width="2.5"/>
<rect x="674" y="354" width="10" height="10" fill="#f0e0f0" stroke="#b05aa8" stroke-width="1.2"/>
<path d="M679.0 355V363M675 359.0H683" stroke="#c06ab0" stroke-width="1"/>
<rect x="725" y="354" width="10" height="10" fill="#f0e0f0" stroke="#b05aa8" stroke-width="1.2"/>
<path d="M730.0 355V363M726 359.0H734" stroke="#c06ab0" stroke-width="1"/>
<path d="M603 340H595.5A3.5 3.5 0 0 0 595.5 347H603Z" fill="#111"/>
<ellipse cx="597.0" cy="343.5" rx="2.8" ry="1.5" fill="#fff"/>
<rect x="586" y="330" width="15" height="7" fill="#3a5fb8" />
<rect x="588" y="331.5" width="3" height="4.0" fill="#fff" />
<rect x="594" y="331.5" width="3" height="4.0" fill="#fff" />
<rect x="608" y="325" width="28" height="6" fill="#111" />
<rect x="608" y="331" width="28" height="6" fill="#222" />
<rect x="608" y="331" width="28" height="6" fill="url(#hg)"/>
<rect x="487" y="325.6" width="47.6" height="11.0" fill="#222" />
<rect x="487" y="325.6" width="47.60000000000002" height="11.0" fill="url(#hr)"/>
<rect x="459" y="331" width="26" height="9" fill="#111" />
<rect x="461.6" y="334.1" width="18.2" height="3.6" rx="1.8" fill="#fff"/>
<path d="M459 352H466.0A4.0 4.0 0 0 1 466.0 360H459Z" fill="#111"/>
<ellipse cx="465.1" cy="356.0" rx="2.8" ry="1.8" fill="#fff"/>
<path d="M459 341H460.5A3.5 3.5 0 0 1 460.5 348H459Z" fill="#111"/>
<ellipse cx="461.8" cy="344.5" rx="1.2" ry="1.5" fill="#fff"/>
<rect x="476" y="354" width="9" height="10" fill="#f0e0f0" stroke="#b05aa8" stroke-width="1.2"/>
<path d="M480.5 355V363M477 359.0H484" stroke="#c06ab0" stroke-width="1"/>
<rect x="357" y="324" width="34" height="12" fill="#222" />
<rect x="359" y="324.5" width="32" height="4.8" fill="#222" />
<rect x="359" y="324.5" width="32" height="4.800000000000011" fill="url(#hg)"/>
<rect x="362" y="330.8" width="29" height="4.7" fill="#222" />
<rect x="362" y="330.8" width="29" height="4.699999999999989" fill="url(#hg)"/>
<rect x="393" y="330" width="4.5" height="22" fill="#111" />
<path d="M366 336.5 C366 342.5 375.5 342.5 375.5 336.5Z M415 330 C415 336.5 422.5 336.5 422.5 330Z" fill="#111"/>
<path d="M381 334 C375 346 384 352 394 349 M397 332 C397 345 408 347 410.5 335" fill="none" stroke="#111" stroke-width="2.6"/>
<ellipse cx="402" cy="349" rx="5.5" ry="3.3" fill="#111"/><ellipse cx="403" cy="349" rx="2.8" ry="1.5" fill="#fff"/>
<ellipse cx="387" cy="354.5" rx="5.5" ry="3.3" fill="#111"/><ellipse cx="386" cy="354.5" rx="2.8" ry="1.5" fill="#fff"/>
<rect x="365" y="356" width="8" height="6" fill="#f0e0f0" stroke="#b05aa8" stroke-width="1.2"/>
<path d="M369.0 357V361M366 359.0H372" stroke="#c06ab0" stroke-width="1"/>
<rect x="414" y="350" width="10" height="6" fill="#f0e0f0" stroke="#b05aa8" stroke-width="1.2"/>
<path d="M419.0 351V355M415 353.0H423" stroke="#c06ab0" stroke-width="1"/>
<rect x="262" y="270" width="15" height="3.2" rx="1.6" fill="#111"/>
<line x1="264" y1="268" x2="275" y2="268" stroke="#555" stroke-width="1.2" stroke-dasharray="1.5 1"/>
<rect x="247" y="302" width="11" height="3.2" rx="1.6" fill="#111"/>
<line x1="249" y1="300" x2="256" y2="300" stroke="#555" stroke-width="1.2" stroke-dasharray="1.5 1"/>
<rect x="246" y="321" width="12" height="3.2" rx="1.6" fill="#111"/>
<line x1="248" y1="319" x2="256" y2="319" stroke="#555" stroke-width="1.2" stroke-dasharray="1.5 1"/>
<rect x="259.5" y="409.3" width="15.199999999999989" height="3.2" rx="1.6" fill="#111"/>
<line x1="261.5" y1="407.3" x2="272.7" y2="407.3" stroke="#555" stroke-width="1.2" stroke-dasharray="1.5 1"/>
<rect x="307.4" y="409.3" width="14.600000000000023" height="3.2" rx="1.6" fill="#111"/>
<line x1="309.4" y1="407.3" x2="320" y2="407.3" stroke="#555" stroke-width="1.2" stroke-dasharray="1.5 1"/>
<rect x="295" y="318" width="12" height="3.2" rx="1.6" fill="#111"/>
<line x1="297" y1="316" x2="305" y2="316" stroke="#555" stroke-width="1.2" stroke-dasharray="1.5 1"/>
<rect x="294" y="281" width="15" height="3.2" rx="1.6" fill="#111"/>
<line x1="296" y1="279" x2="307" y2="279" stroke="#555" stroke-width="1.2" stroke-dasharray="1.5 1"/>
<rect x="313" y="244" width="14" height="3.2" rx="1.6" fill="#111"/>
<line x1="315" y1="242" x2="325" y2="242" stroke="#555" stroke-width="1.2" stroke-dasharray="1.5 1"/>
<rect x="364" y="256" width="15" height="3.2" rx="1.6" fill="#111"/>
<line x1="366" y1="254" x2="377" y2="254" stroke="#555" stroke-width="1.2" stroke-dasharray="1.5 1"/>
<rect x="358" y="283" width="13" height="3.2" rx="1.6" fill="#111"/>
<line x1="360" y1="281" x2="369" y2="281" stroke="#555" stroke-width="1.2" stroke-dasharray="1.5 1"/>
<rect x="419" y="252" width="14" height="3.2" rx="1.6" fill="#111"/>
<line x1="421" y1="250" x2="431" y2="250" stroke="#555" stroke-width="1.2" stroke-dasharray="1.5 1"/>
<rect x="399" y="288" width="13" height="3.2" rx="1.6" fill="#111"/>
<line x1="401" y1="286" x2="410" y2="286" stroke="#555" stroke-width="1.2" stroke-dasharray="1.5 1"/>
<rect x="428" y="282" width="12" height="3.2" rx="1.6" fill="#111"/>
<line x1="430" y1="280" x2="438" y2="280" stroke="#555" stroke-width="1.2" stroke-dasharray="1.5 1"/>
<rect x="476" y="262" width="14" height="3.2" rx="1.6" fill="#111"/>
<line x1="478" y1="260" x2="488" y2="260" stroke="#555" stroke-width="1.2" stroke-dasharray="1.5 1"/>
<rect x="531" y="273" width="14" height="3.2" rx="1.6" fill="#111"/>
<line x1="533" y1="271" x2="543" y2="271" stroke="#555" stroke-width="1.2" stroke-dasharray="1.5 1"/>
<rect x="531.7" y="172.5" width="12.299999999999955" height="3.2" rx="1.6" fill="#111"/>
<line x1="533.7" y1="170.5" x2="542" y2="170.5" stroke="#555" stroke-width="1.2" stroke-dasharray="1.5 1"/>
<rect x="566" y="281" width="14" height="3.2" rx="1.6" fill="#111"/>
<line x1="568" y1="279" x2="578" y2="279" stroke="#555" stroke-width="1.2" stroke-dasharray="1.5 1"/>
<rect x="587" y="251" width="12" height="3.2" rx="1.6" fill="#111"/>
<line x1="589" y1="249" x2="597" y2="249" stroke="#555" stroke-width="1.2" stroke-dasharray="1.5 1"/>
<rect x="638" y="265" width="14" height="3.2" rx="1.6" fill="#111"/>
<line x1="640" y1="263" x2="650" y2="263" stroke="#555" stroke-width="1.2" stroke-dasharray="1.5 1"/>
<rect x="630" y="291" width="11" height="3.2" rx="1.6" fill="#111"/>
<line x1="632" y1="289" x2="639" y2="289" stroke="#555" stroke-width="1.2" stroke-dasharray="1.5 1"/>
<rect x="739" y="280" width="11" height="3.2" rx="1.6" fill="#111"/>
<line x1="741" y1="278" x2="748" y2="278" stroke="#555" stroke-width="1.2" stroke-dasharray="1.5 1"/>
<rect x="709" y="251" width="12" height="3.2" rx="1.6" fill="#111"/>
<line x1="711" y1="249" x2="719" y2="249" stroke="#555" stroke-width="1.2" stroke-dasharray="1.5 1"/>
<rect x="688" y="264" width="13" height="3.2" rx="1.6" fill="#111"/>
<line x1="690" y1="262" x2="699" y2="262" stroke="#555" stroke-width="1.2" stroke-dasharray="1.5 1"/>
<rect x="709" y="292" width="12" height="3.2" rx="1.6" fill="#111"/>
<line x1="711" y1="290" x2="719" y2="290" stroke="#555" stroke-width="1.2" stroke-dasharray="1.5 1"/>
<rect x="770" y="259" width="15" height="3.2" rx="1.6" fill="#111"/>
<line x1="772" y1="257" x2="783" y2="257" stroke="#555" stroke-width="1.2" stroke-dasharray="1.5 1"/>
<rect x="770" y="294" width="13" height="3.2" rx="1.6" fill="#111"/>
<line x1="772" y1="292" x2="781" y2="292" stroke="#555" stroke-width="1.2" stroke-dasharray="1.5 1"/>
<rect x="844" y="292" width="14" height="3.2" rx="1.6" fill="#111"/>
<line x1="846" y1="290" x2="856" y2="290" stroke="#555" stroke-width="1.2" stroke-dasharray="1.5 1"/>
<rect x="842" y="318" width="14" height="3.2" rx="1.6" fill="#111"/>
<line x1="844" y1="316" x2="854" y2="316" stroke="#555" stroke-width="1.2" stroke-dasharray="1.5 1"/>
<rect x="815" y="323" width="12" height="3.2" rx="1.6" fill="#111"/>
<line x1="817" y1="321" x2="825" y2="321" stroke="#555" stroke-width="1.2" stroke-dasharray="1.5 1"/>
<rect x="796" y="350" width="12" height="3.2" rx="1.6" fill="#111"/>
<line x1="798" y1="348" x2="806" y2="348" stroke="#555" stroke-width="1.2" stroke-dasharray="1.5 1"/>
<rect x="838.3" y="409.4" width="15.300000000000068" height="3.2" rx="1.6" fill="#111"/>
<line x1="840.3" y1="407.4" x2="851.6" y2="407.4" stroke="#555" stroke-width="1.2" stroke-dasharray="1.5 1"/>
<rect x="787.5" y="428" width="14.5" height="3.2" rx="1.6" fill="#111"/>
<line x1="789.5" y1="426" x2="800" y2="426" stroke="#555" stroke-width="1.2" stroke-dasharray="1.5 1"/>
<rect x="680" y="349" width="13" height="3.2" rx="1.6" fill="#111"/>
<line x1="682" y1="347" x2="691" y2="347" stroke="#555" stroke-width="1.2" stroke-dasharray="1.5 1"/>
<rect x="713" y="349" width="13" height="3.2" rx="1.6" fill="#111"/>
<line x1="715" y1="347" x2="724" y2="347" stroke="#555" stroke-width="1.2" stroke-dasharray="1.5 1"/>
<rect x="718" y="318" width="16" height="3.2" rx="1.6" fill="#111"/>
<line x1="720" y1="316" x2="732" y2="316" stroke="#555" stroke-width="1.2" stroke-dasharray="1.5 1"/>
<rect x="738" y="359" width="12" height="3.2" rx="1.6" fill="#111"/>
<line x1="740" y1="357" x2="748" y2="357" stroke="#555" stroke-width="1.2" stroke-dasharray="1.5 1"/>
<rect x="560" y="350" width="13" height="3.2" rx="1.6" fill="#111"/>
<line x1="562" y1="348" x2="571" y2="348" stroke="#555" stroke-width="1.2" stroke-dasharray="1.5 1"/>
<rect x="581" y="351" width="13" height="3.2" rx="1.6" fill="#111"/>
<line x1="583" y1="349" x2="592" y2="349" stroke="#555" stroke-width="1.2" stroke-dasharray="1.5 1"/>
<rect x="621" y="350" width="13" height="3.2" rx="1.6" fill="#111"/>
<line x1="623" y1="348" x2="632" y2="348" stroke="#555" stroke-width="1.2" stroke-dasharray="1.5 1"/>
<rect x="473" y="352" width="14" height="3.2" rx="1.6" fill="#111"/>
<line x1="475" y1="350" x2="485" y2="350" stroke="#555" stroke-width="1.2" stroke-dasharray="1.5 1"/>
<rect x="432" y="359" width="13" height="3.2" rx="1.6" fill="#111"/>
<line x1="434" y1="357" x2="443" y2="357" stroke="#555" stroke-width="1.2" stroke-dasharray="1.5 1"/>
<rect x="370" y="353" width="13" height="3.2" rx="1.6" fill="#111"/>
<line x1="372" y1="351" x2="381" y2="351" stroke="#555" stroke-width="1.2" stroke-dasharray="1.5 1"/>
<rect x="349" y="365" width="13" height="3.2" rx="1.6" fill="#111"/>
<line x1="351" y1="363" x2="360" y2="363" stroke="#555" stroke-width="1.2" stroke-dasharray="1.5 1"/>
<rect x="409" y="346" width="12" height="3.2" rx="1.6" fill="#111"/>
<line x1="411" y1="344" x2="419" y2="344" stroke="#555" stroke-width="1.2" stroke-dasharray="1.5 1"/>
<rect x="356.6" y="428" width="14.0" height="3.2" rx="1.6" fill="#111"/>
<line x1="358.6" y1="426" x2="368.6" y2="426" stroke="#555" stroke-width="1.2" stroke-dasharray="1.5 1"/>
<rect x="436" y="428" width="14.699999999999989" height="3.2" rx="1.6" fill="#111"/>
<line x1="438" y1="426" x2="448.7" y2="426" stroke="#555" stroke-width="1.2" stroke-dasharray="1.5 1"/>
<rect x="488" y="428" width="14.699999999999989" height="3.2" rx="1.6" fill="#111"/>
<line x1="490" y1="426" x2="500.7" y2="426" stroke="#555" stroke-width="1.2" stroke-dasharray="1.5 1"/>
<rect x="536.4" y="428" width="14.600000000000023" height="3.2" rx="1.6" fill="#111"/>
<line x1="538.4" y1="426" x2="549" y2="426" stroke="#555" stroke-width="1.2" stroke-dasharray="1.5 1"/>
<rect x="583.7" y="428" width="14.599999999999909" height="3.2" rx="1.6" fill="#111"/>
<line x1="585.7" y1="426" x2="596.3" y2="426" stroke="#555" stroke-width="1.2" stroke-dasharray="1.5 1"/>
<rect x="630.8" y="428" width="14.600000000000023" height="3.2" rx="1.6" fill="#111"/>
<line x1="632.8" y1="426" x2="643.4" y2="426" stroke="#555" stroke-width="1.2" stroke-dasharray="1.5 1"/>
<rect x="675.8" y="428" width="14.600000000000023" height="3.2" rx="1.6" fill="#111"/>
<line x1="677.8" y1="426" x2="688.4" y2="426" stroke="#555" stroke-width="1.2" stroke-dasharray="1.5 1"/>
<rect x="732.8" y="428" width="14.600000000000023" height="3.2" rx="1.6" fill="#111"/>
<line x1="734.8" y1="426" x2="745.4" y2="426" stroke="#555" stroke-width="1.2" stroke-dasharray="1.5 1"/>
<rect x="787.7" y="428" width="15.299999999999955" height="3.2" rx="1.6" fill="#111"/>
<line x1="789.7" y1="426" x2="801" y2="426" stroke="#555" stroke-width="1.2" stroke-dasharray="1.5 1"/>
<line x1="265" y1="281" x2="280" y2="290" stroke="#111" stroke-width="1.8"/>
<line x1="260" y1="290" x2="267" y2="303" stroke="#111" stroke-width="1.8"/>
<line x1="267" y1="314" x2="259" y2="327" stroke="#111" stroke-width="1.8"/>
<line x1="265" y1="347" x2="279" y2="341" stroke="#111" stroke-width="1.8"/>
<line x1="290.5" y1="332.7" x2="303" y2="325.5" stroke="#111" stroke-width="1.8"/>
<line x1="311" y1="322.8" x2="319" y2="309.5" stroke="#111" stroke-width="1.8"/>
<line x1="330.7" y1="297" x2="345" y2="306.8" stroke="#111" stroke-width="1.8"/>
<line x1="344" y1="326.4" x2="356.6" y2="318.4" stroke="#111" stroke-width="1.8"/>
<line x1="345" y1="368" x2="357" y2="379" stroke="#111" stroke-width="1.8"/>
<line x1="318" y1="249" x2="327" y2="253" stroke="#111" stroke-width="1.8"/>
<line x1="334" y1="268" x2="347" y2="261" stroke="#111" stroke-width="1.8"/>
<line x1="311" y1="272" x2="319" y2="283" stroke="#111" stroke-width="1.8"/>
<line x1="397" y1="298" x2="411" y2="306" stroke="#111" stroke-width="1.8"/>
<line x1="402" y1="259" x2="414" y2="253" stroke="#111" stroke-width="1.8"/>
<line x1="416" y1="277" x2="424" y2="290" stroke="#111" stroke-width="1.8"/>
<line x1="476" y1="183.8" x2="487.8" y2="191.5" stroke="#111" stroke-width="1.8"/>
<line x1="528.3" y1="175" x2="539" y2="181.7" stroke="#111" stroke-width="1.8"/>
<line x1="529" y1="278" x2="544" y2="286" stroke="#111" stroke-width="1.8"/>
<line x1="587" y1="258" x2="599" y2="265" stroke="#111" stroke-width="1.8"/>
<line x1="605" y1="272" x2="620" y2="268" stroke="#111" stroke-width="1.8"/>
<line x1="582" y1="283" x2="590" y2="273" stroke="#111" stroke-width="1.8"/>
<line x1="709" y1="262" x2="721" y2="257" stroke="#111" stroke-width="1.8"/>
<line x1="686" y1="265" x2="700" y2="273" stroke="#111" stroke-width="1.8"/>
<line x1="721" y1="274" x2="727" y2="287" stroke="#111" stroke-width="1.8"/>
<line x1="694" y1="306.6" x2="707" y2="299" stroke="#111" stroke-width="1.8"/>
<line x1="790" y1="270" x2="803" y2="278" stroke="#111" stroke-width="1.8"/>
<line x1="787" y1="282" x2="793" y2="294" stroke="#111" stroke-width="1.8"/>
<line x1="815" y1="298" x2="827" y2="292" stroke="#111" stroke-width="1.8"/>
<line x1="825" y1="312" x2="832.5" y2="321.5" stroke="#111" stroke-width="1.8"/>
<line x1="816" y1="331" x2="828" y2="338" stroke="#111" stroke-width="1.8"/>
<line x1="759" y1="350" x2="772" y2="357" stroke="#111" stroke-width="1.8"/>
<line x1="803" y1="342" x2="811" y2="352" stroke="#111" stroke-width="1.8"/>
<line x1="745" y1="325" x2="755" y2="318" stroke="#111" stroke-width="1.8"/>
<line x1="759" y1="321.5" x2="770" y2="306.6" stroke="#111" stroke-width="1.8"/>
<line x1="644" y1="318" x2="659" y2="328" stroke="#111" stroke-width="1.8"/>
<line x1="668" y1="372" x2="656" y2="360" stroke="#111" stroke-width="1.8"/>
<line x1="741" y1="325.7" x2="756" y2="318" stroke="#111" stroke-width="1.8"/>
<line x1="738" y1="370" x2="750" y2="364" stroke="#111" stroke-width="1.8"/>
<line x1="563" y1="357" x2="575" y2="362" stroke="#111" stroke-width="1.8"/>
<line x1="575" y1="353" x2="582" y2="340" stroke="#111" stroke-width="1.8"/>
<line x1="638" y1="362" x2="645" y2="356" stroke="#111" stroke-width="1.8"/>
<line x1="538" y1="318" x2="556" y2="327" stroke="#111" stroke-width="1.8"/>
<line x1="597" y1="307" x2="605" y2="300" stroke="#111" stroke-width="1.8"/>
<line x1="518" y1="352" x2="530" y2="362" stroke="#111" stroke-width="1.8"/>
<line x1="490" y1="371" x2="502" y2="362" stroke="#111" stroke-width="1.8"/>
<line x1="484" y1="338" x2="493" y2="352" stroke="#111" stroke-width="1.8"/>
<line x1="363" y1="345" x2="357" y2="356" stroke="#111" stroke-width="1.8"/>
<line x1="429" y1="324.6" x2="443" y2="318.4" stroke="#111" stroke-width="1.8"/>
<line x1="430.7" y1="372.8" x2="445.9" y2="364.8" stroke="#111" stroke-width="1.8"/>
<line x1="423.6" y1="343" x2="430.7" y2="348.8" stroke="#111" stroke-width="1.8"/>
<line x1="745" y1="368" x2="752" y2="363" stroke="#111" stroke-width="1.8"/>
<path d="M460 177 L472 160 M483 160 L531 175 M522 200 L530 206 M520 240 L530 246" stroke="#777" stroke-width="0.8" fill="none"/>
<rect x="471.2" y="153.3" width="2.7" height="8.7" fill="#111" />
<rect x="337.5" y="218" width="29.5" height="24" fill="#fff" stroke="#7a2a92" stroke-width="1.8"/>
<line x1="350.8" y1="218" x2="350.8" y2="242" stroke="#7a2a92" stroke-width="1.6"/>
<line x1="350.8" y1="226.0" x2="367" y2="226.0" stroke="#7a2a92" stroke-width="1.4"/>
<line x1="350.8" y1="234.0" x2="367" y2="234.0" stroke="#7a2a92" stroke-width="1.4"/>
<text x="358.9" y="224.2" font-family="Liberation Sans" font-style="italic" font-weight="bold" font-size="6.0" text-anchor="middle" fill="#333" textLength="11.7" lengthAdjust="spacingAndGlyphs">16.23</text>
<text x="358.9" y="232.2" font-family="Liberation Sans" font-style="italic" font-weight="bold" font-size="6.0" text-anchor="middle" fill="#333" textLength="11.7" lengthAdjust="spacingAndGlyphs">38.04</text>
<text x="358.9" y="240.2" font-family="Liberation Sans" font-style="italic" font-weight="bold" font-size="6.0" text-anchor="middle" fill="#333" textLength="11.7" lengthAdjust="spacingAndGlyphs">42.23</text>
<text x="344.1" y="235.3" font-family="Liberation Sans" font-style="italic" font-size="13.2" text-anchor="middle" fill="#333">1</text>
<rect x="400.8" y="214" width="30.0" height="25" fill="#fff" stroke="#7a2a92" stroke-width="1.8"/>
<line x1="414" y1="214" x2="414" y2="239" stroke="#7a2a92" stroke-width="1.6"/>
<line x1="414" y1="222.3" x2="430.8" y2="222.3" stroke="#7a2a92" stroke-width="1.4"/>
<line x1="414" y1="230.7" x2="430.8" y2="230.7" stroke="#7a2a92" stroke-width="1.4"/>
<text x="422.4" y="220.5" font-family="Liberation Sans" font-style="italic" font-weight="bold" font-size="6.2" text-anchor="middle" fill="#333" textLength="12.1" lengthAdjust="spacingAndGlyphs">17.18</text>
<text x="422.4" y="228.8" font-family="Liberation Sans" font-style="italic" font-weight="bold" font-size="6.2" text-anchor="middle" fill="#333" textLength="12.1" lengthAdjust="spacingAndGlyphs">26.61</text>
<text x="422.4" y="237.2" font-family="Liberation Sans" font-style="italic" font-weight="bold" font-size="6.2" text-anchor="middle" fill="#333" textLength="12.1" lengthAdjust="spacingAndGlyphs">28.40</text>
<text x="407.4" y="232.0" font-family="Liberation Sans" font-style="italic" font-size="13.8" text-anchor="middle" fill="#333">C</text>
<rect x="611.4" y="219.5" width="29.6" height="24.5" fill="#fff" stroke="#7a2a92" stroke-width="1.8"/>
<line x1="624.2" y1="219.5" x2="624.2" y2="244" stroke="#7a2a92" stroke-width="1.6"/>
<line x1="624.2" y1="227.7" x2="641" y2="227.7" stroke="#7a2a92" stroke-width="1.4"/>
<line x1="624.2" y1="235.8" x2="641" y2="235.8" stroke="#7a2a92" stroke-width="1.4"/>
<text x="632.6" y="225.9" font-family="Liberation Sans" font-style="italic" font-weight="bold" font-size="6.1" text-anchor="middle" fill="#333" textLength="12.1" lengthAdjust="spacingAndGlyphs">16.25</text>
<text x="632.6" y="234.0" font-family="Liberation Sans" font-style="italic" font-weight="bold" font-size="6.1" text-anchor="middle" fill="#333" textLength="12.1" lengthAdjust="spacingAndGlyphs">39.50</text>
<text x="632.6" y="242.2" font-family="Liberation Sans" font-style="italic" font-weight="bold" font-size="6.1" text-anchor="middle" fill="#333" textLength="12.1" lengthAdjust="spacingAndGlyphs">43.68</text>
<text x="617.8" y="237.1" font-family="Liberation Sans" font-style="italic" font-size="13.5" text-anchor="middle" fill="#333">1</text>
<rect x="671.5" y="215" width="28.5" height="25" fill="#fff" stroke="#7a2a92" stroke-width="1.8"/>
<line x1="683.4" y1="215" x2="683.4" y2="240" stroke="#7a2a92" stroke-width="1.6"/>
<line x1="683.4" y1="223.3" x2="700" y2="223.3" stroke="#7a2a92" stroke-width="1.4"/>
<line x1="683.4" y1="231.7" x2="700" y2="231.7" stroke="#7a2a92" stroke-width="1.4"/>
<text x="691.7" y="221.5" font-family="Liberation Sans" font-style="italic" font-weight="bold" font-size="6.2" text-anchor="middle" fill="#333" textLength="12.0" lengthAdjust="spacingAndGlyphs">14.91</text>
<text x="691.7" y="229.8" font-family="Liberation Sans" font-style="italic" font-weight="bold" font-size="6.2" text-anchor="middle" fill="#333" textLength="12.0" lengthAdjust="spacingAndGlyphs">36.75</text>
<text x="691.7" y="238.2" font-family="Liberation Sans" font-style="italic" font-weight="bold" font-size="6.2" text-anchor="middle" fill="#333" textLength="12.0" lengthAdjust="spacingAndGlyphs">40.92</text>
<text x="677.5" y="233.0" font-family="Liberation Sans" font-style="italic" font-size="13.8" text-anchor="middle" fill="#333">1</text>
<rect x="816.5" y="240.3" width="28.5" height="24.7" fill="#fff" stroke="#7a2a92" stroke-width="1.8"/>
<line x1="829.3" y1="240.3" x2="829.3" y2="265" stroke="#7a2a92" stroke-width="1.6"/>
<line x1="829.3" y1="248.5" x2="845" y2="248.5" stroke="#7a2a92" stroke-width="1.4"/>
<line x1="829.3" y1="256.8" x2="845" y2="256.8" stroke="#7a2a92" stroke-width="1.4"/>
<text x="837.1" y="246.7" font-family="Liberation Sans" font-style="italic" font-weight="bold" font-size="6.2" text-anchor="middle" fill="#333" textLength="11.3" lengthAdjust="spacingAndGlyphs">33.05</text>
<text x="837.1" y="255.0" font-family="Liberation Sans" font-style="italic" font-weight="bold" font-size="6.2" text-anchor="middle" fill="#333" textLength="11.3" lengthAdjust="spacingAndGlyphs">61.07</text>
<text x="837.1" y="263.2" font-family="Liberation Sans" font-style="italic" font-weight="bold" font-size="6.2" text-anchor="middle" fill="#333" textLength="11.3" lengthAdjust="spacingAndGlyphs">67.44</text>
<text x="822.9" y="258.1" font-family="Liberation Sans" font-style="italic" font-size="13.6" text-anchor="middle" fill="#333">2</text>
<rect x="289" y="337" width="29.6" height="23.5" fill="#fff" stroke="#7a2a92" stroke-width="1.8"/>
<line x1="302" y1="337" x2="302" y2="360.5" stroke="#7a2a92" stroke-width="1.6"/>
<line x1="302" y1="344.8" x2="318.6" y2="344.8" stroke="#7a2a92" stroke-width="1.4"/>
<line x1="302" y1="352.7" x2="318.6" y2="352.7" stroke="#7a2a92" stroke-width="1.4"/>
<text x="310.3" y="343.1" font-family="Liberation Sans" font-style="italic" font-weight="bold" font-size="5.9" text-anchor="middle" fill="#333" textLength="12.0" lengthAdjust="spacingAndGlyphs">31.17</text>
<text x="310.3" y="350.9" font-family="Liberation Sans" font-style="italic" font-weight="bold" font-size="5.9" text-anchor="middle" fill="#333" textLength="12.0" lengthAdjust="spacingAndGlyphs">57.18</text>
<text x="310.3" y="358.8" font-family="Liberation Sans" font-style="italic" font-weight="bold" font-size="5.9" text-anchor="middle" fill="#333" textLength="12.0" lengthAdjust="spacingAndGlyphs">64.18</text>
<text x="295.5" y="353.9" font-family="Liberation Sans" font-style="italic" font-size="12.9" text-anchor="middle" fill="#333">2</text>
<rect x="347" y="384.3" width="28" height="22.9" fill="#fff" stroke="#7a2a92" stroke-width="1.8"/>
<line x1="359" y1="384.3" x2="359" y2="407.2" stroke="#7a2a92" stroke-width="1.6"/>
<line x1="359" y1="391.9" x2="375" y2="391.9" stroke="#7a2a92" stroke-width="1.4"/>
<line x1="359" y1="399.6" x2="375" y2="399.6" stroke="#7a2a92" stroke-width="1.4"/>
<text x="367.0" y="390.3" font-family="Liberation Sans" font-style="italic" font-weight="bold" font-size="5.7" text-anchor="middle" fill="#333" textLength="11.5" lengthAdjust="spacingAndGlyphs">15.60</text>
<text x="367.0" y="397.9" font-family="Liberation Sans" font-style="italic" font-weight="bold" font-size="5.7" text-anchor="middle" fill="#333" textLength="11.5" lengthAdjust="spacingAndGlyphs">24.16</text>
<text x="367.0" y="405.5" font-family="Liberation Sans" font-style="italic" font-weight="bold" font-size="5.7" text-anchor="middle" fill="#333" textLength="11.5" lengthAdjust="spacingAndGlyphs">26.86</text>
<text x="353.0" y="400.8" font-family="Liberation Sans" font-style="italic" font-size="12.6" text-anchor="middle" fill="#333">C</text>
<rect x="411.2" y="375" width="28.8" height="24" fill="#fff" stroke="#7a2a92" stroke-width="1.8"/>
<line x1="423" y1="375" x2="423" y2="399" stroke="#7a2a92" stroke-width="1.6"/>
<line x1="423" y1="383.0" x2="440" y2="383.0" stroke="#7a2a92" stroke-width="1.4"/>
<line x1="423" y1="391.0" x2="440" y2="391.0" stroke="#7a2a92" stroke-width="1.4"/>
<text x="431.5" y="381.2" font-family="Liberation Sans" font-style="italic" font-weight="bold" font-size="6.0" text-anchor="middle" fill="#333" textLength="12.2" lengthAdjust="spacingAndGlyphs">16.66</text>
<text x="431.5" y="389.2" font-family="Liberation Sans" font-style="italic" font-weight="bold" font-size="6.0" text-anchor="middle" fill="#333" textLength="12.2" lengthAdjust="spacingAndGlyphs">24.25</text>
<text x="431.5" y="397.2" font-family="Liberation Sans" font-style="italic" font-weight="bold" font-size="6.0" text-anchor="middle" fill="#333" textLength="12.2" lengthAdjust="spacingAndGlyphs">26.76</text>
<text x="417.1" y="392.3" font-family="Liberation Sans" font-style="italic" font-size="13.2" text-anchor="middle" fill="#333">C</text>
<rect x="513.5" y="369.6" width="28.5" height="23.0" fill="#fff" stroke="#7a2a92" stroke-width="1.8"/>
<line x1="525.4" y1="369.6" x2="525.4" y2="392.6" stroke="#7a2a92" stroke-width="1.6"/>
<line x1="525.4" y1="377.3" x2="542" y2="377.3" stroke="#7a2a92" stroke-width="1.4"/>
<line x1="525.4" y1="384.9" x2="542" y2="384.9" stroke="#7a2a92" stroke-width="1.4"/>
<text x="533.7" y="375.6" font-family="Liberation Sans" font-style="italic" font-weight="bold" font-size="5.8" text-anchor="middle" fill="#333" textLength="12.0" lengthAdjust="spacingAndGlyphs">30.34</text>
<text x="533.7" y="383.2" font-family="Liberation Sans" font-style="italic" font-weight="bold" font-size="5.8" text-anchor="middle" fill="#333" textLength="12.0" lengthAdjust="spacingAndGlyphs">57.74</text>
<text x="533.7" y="390.9" font-family="Liberation Sans" font-style="italic" font-weight="bold" font-size="5.8" text-anchor="middle" fill="#333" textLength="12.0" lengthAdjust="spacingAndGlyphs">59.64</text>
<text x="519.5" y="386.2" font-family="Liberation Sans" font-style="italic" font-size="12.7" text-anchor="middle" fill="#333">2</text>
<rect x="619.8" y="364" width="28.6" height="24" fill="#fff" stroke="#7a2a92" stroke-width="1.8"/>
<line x1="633" y1="364" x2="633" y2="388" stroke="#7a2a92" stroke-width="1.6"/>
<line x1="633" y1="372.0" x2="648.4" y2="372.0" stroke="#7a2a92" stroke-width="1.4"/>
<line x1="633" y1="380.0" x2="648.4" y2="380.0" stroke="#7a2a92" stroke-width="1.4"/>
<text x="640.7" y="370.2" font-family="Liberation Sans" font-style="italic" font-weight="bold" font-size="6.0" text-anchor="middle" fill="#333" textLength="11.1" lengthAdjust="spacingAndGlyphs">16.06</text>
<text x="640.7" y="378.2" font-family="Liberation Sans" font-style="italic" font-weight="bold" font-size="6.0" text-anchor="middle" fill="#333" textLength="11.1" lengthAdjust="spacingAndGlyphs">38.55</text>
<text x="640.7" y="386.2" font-family="Liberation Sans" font-style="italic" font-weight="bold" font-size="6.0" text-anchor="middle" fill="#333" textLength="11.1" lengthAdjust="spacingAndGlyphs">40.83</text>
<text x="626.4" y="381.3" font-family="Liberation Sans" font-style="italic" font-size="13.2" text-anchor="middle" fill="#333">1</text>
<rect x="760.6" y="385.6" width="28.8" height="24.0" fill="#fff" stroke="#7a2a92" stroke-width="1.8"/>
<line x1="773" y1="385.6" x2="773" y2="409.6" stroke="#7a2a92" stroke-width="1.6"/>
<line x1="773" y1="393.6" x2="789.4" y2="393.6" stroke="#7a2a92" stroke-width="1.4"/>
<line x1="773" y1="401.6" x2="789.4" y2="401.6" stroke="#7a2a92" stroke-width="1.4"/>
<text x="781.2" y="391.8" font-family="Liberation Sans" font-style="italic" font-weight="bold" font-size="6.0" text-anchor="middle" fill="#333" textLength="11.8" lengthAdjust="spacingAndGlyphs">16.75</text>
<text x="781.2" y="399.8" font-family="Liberation Sans" font-style="italic" font-weight="bold" font-size="6.0" text-anchor="middle" fill="#333" textLength="11.8" lengthAdjust="spacingAndGlyphs">39.12</text>
<text x="781.2" y="407.8" font-family="Liberation Sans" font-style="italic" font-weight="bold" font-size="6.0" text-anchor="middle" fill="#333" textLength="11.8" lengthAdjust="spacingAndGlyphs">41.27</text>
<text x="766.8" y="402.9" font-family="Liberation Sans" font-style="italic" font-size="13.2" text-anchor="middle" fill="#333">1</text>
<rect x="554.3" y="307.3" width="43" height="9.2" fill="#fff" stroke="#111" stroke-width="1.4"/>
<text x="558" y="314" font-family="Liberation Sans" font-style="italic" font-size="6" fill="#222" textLength="36" lengthAdjust="spacingAndGlyphs">+7,200...+49,200</text>
<text x="244" y="207" font-family="Liberation Sans" font-style="italic" font-weight="bold" font-size="6" fill="#333" textLength="32" lengthAdjust="spacingAndGlyphs">4.00+0.5+2.00</text>
<text x="248" y="196" font-family="Liberation Sans" font-style="italic" font-weight="bold" font-size="6" fill="#333" textLength="27" lengthAdjust="spacingAndGlyphs">см. прим. 2</text>
<path d="M239 189.5 L246 197.5 L276 197.5" stroke="#888" stroke-width="0.8" fill="none"/>
<text x="350.7" y="182" font-family="Liberation Sans" font-style="italic" font-weight="bold" font-size="6" fill="#333" textLength="31.3" lengthAdjust="spacingAndGlyphs">8.38+0.5+4.19</text>
<text x="416.8" y="187.5" font-family="Liberation Sans" font-style="italic" font-weight="bold" font-size="6" fill="#333" textLength="32" lengthAdjust="spacingAndGlyphs">8.47+0.5+2.73</text>
<text x="619.5" y="187" font-family="Liberation Sans" font-style="italic" font-weight="bold" font-size="6" fill="#333" textLength="31.5" lengthAdjust="spacingAndGlyphs">8.31+0.5+4.18</text>
<text x="723.6" y="183.5" font-family="Liberation Sans" font-style="italic" font-weight="bold" font-size="6" fill="#333" textLength="33" lengthAdjust="spacingAndGlyphs">8.30+0.5+4.15</text>
<text x="827" y="206" font-family="Liberation Sans" font-style="italic" font-weight="bold" font-size="6" fill="#333" textLength="35" lengthAdjust="spacingAndGlyphs">8.84+0.5+4.42</text>
<text x="290.5" y="441" font-family="Liberation Sans" font-style="italic" font-weight="bold" font-size="6" fill="#333" textLength="34" lengthAdjust="spacingAndGlyphs">10.06+0.5+5.03</text>
<text x="357" y="457" font-family="Liberation Sans" font-style="italic" font-weight="bold" font-size="6" fill="#333" textLength="33" lengthAdjust="spacingAndGlyphs">5.40+0.5+2.70</text>
<text x="422.7" y="457" font-family="Liberation Sans" font-style="italic" font-weight="bold" font-size="6" fill="#333" textLength="31.3" lengthAdjust="spacingAndGlyphs">5.08+0.5+2.54</text>
<text x="475" y="457" font-family="Liberation Sans" font-style="italic" font-weight="bold" font-size="6" fill="#333" textLength="33" lengthAdjust="spacingAndGlyphs">4.40+0.5+2.20</text>
<text x="669.6" y="457" font-family="Liberation Sans" font-style="italic" font-weight="bold" font-size="6" fill="#333" textLength="32.2" lengthAdjust="spacingAndGlyphs">4.57+0.5+2.28</text>
<text x="724" y="457" font-family="Liberation Sans" font-style="italic" font-weight="bold" font-size="6" fill="#333" textLength="33" lengthAdjust="spacingAndGlyphs">4.50+0.5+2.25</text>
<text x="829.3" y="437" font-family="Liberation Sans" font-style="italic" font-weight="bold" font-size="6" fill="#333" textLength="31.7" lengthAdjust="spacingAndGlyphs">4.30+0.5+2.15</text>
<text x="504" y="277" font-family="Liberation Sans" font-style="italic" font-weight="bold" font-size="6" fill="#333" textLength="18" lengthAdjust="spacingAndGlyphs">38 шб.</text>
<text x="528" y="208" font-family="Liberation Sans" font-style="italic" font-weight="bold" font-size="5.5" fill="#333" textLength="13" lengthAdjust="spacingAndGlyphs">Ø1.60</text>
<text x="528" y="248" font-family="Liberation Sans" font-style="italic" font-weight="bold" font-size="5.5" fill="#333" textLength="13" lengthAdjust="spacingAndGlyphs">Ø1.60</text>
<text x="538" y="296" font-family="Liberation Sans" font-style="italic" font-size="5.5" fill="#666">Ø 60</text>
<text x="133.5" y="451" font-family="Liberation Sans" font-size="7.5" fill="#555">1Э8</text>
<text x="133.5" y="529.5" font-family="Liberation Sans" font-size="7.5" fill="#a0622a">1Э8</text>
</svg>
</body></html>
